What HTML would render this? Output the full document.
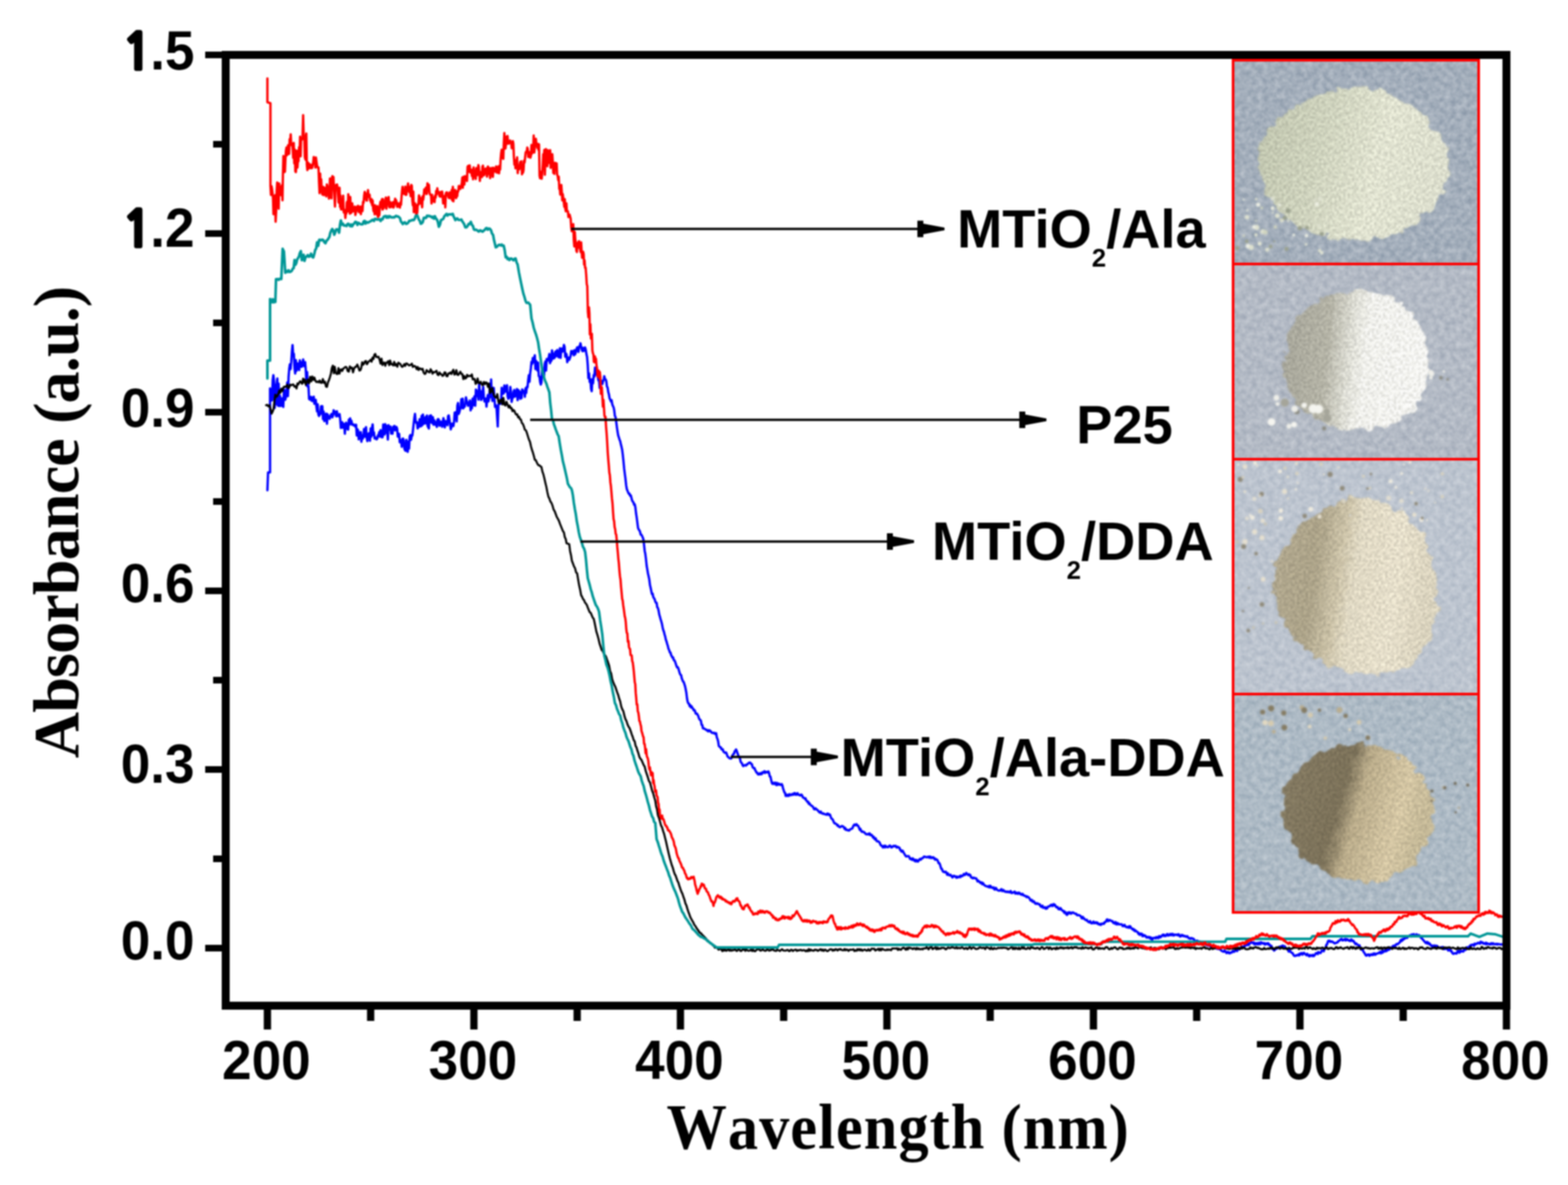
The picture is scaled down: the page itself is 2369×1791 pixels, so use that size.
<!DOCTYPE html>
<html><head><meta charset="utf-8"><title>UV-vis absorbance</title>
<style>html,body{margin:0;padding:0;background:#fff;}body{width:2369px;height:1791px;overflow:hidden;}svg{display:block;filter:blur(1px)}</style>
</head><body>
<svg xmlns="http://www.w3.org/2000/svg" width="2369" height="1791" viewBox="0 0 2369 1791">
<defs>
<clipPath id="plot"><rect x="347" y="89" width="1923" height="1425"/></clipPath>
<filter id="grain" x="0" y="0" width="100%" height="100%">
<feTurbulence type="fractalNoise" baseFrequency="0.22" numOctaves="2" seed="4" result="n"/>
<feColorMatrix in="n" type="matrix" values="0 0 0 0 0  0 0 0 0 0  0 0 0 0 0  0 0 0 -2.2 1.25" result="a"/>
<feComposite in="SourceGraphic" in2="a" operator="in"/>
</filter>

<filter id="rough" x="-15%" y="-15%" width="130%" height="130%" color-interpolation-filters="sRGB">
  <feTurbulence type="fractalNoise" baseFrequency="0.07" numOctaves="2" seed="5" result="t"/>
  <feDisplacementMap in="SourceGraphic" in2="t" scale="18" xChannelSelector="R" yChannelSelector="G" result="d"/>
  <feTurbulence type="fractalNoise" baseFrequency="0.3" numOctaves="1" seed="9" result="t2"/>
  <feColorMatrix in="t2" type="matrix" values="2.4 0 0 0 -0.7  2.4 0 0 0 -0.7  2.4 0 0 0 -0.7  0 0 0 0 1" result="g"/>
  <feComposite in="d" in2="g" operator="arithmetic" k1="0.26" k2="0.88" k3="0" k4="0" result="m"/>
  <feComposite in="m" in2="d" operator="in" result="c"/>
  <feGaussianBlur in="c" stdDeviation="0.9"/>
</filter>
<filter id="soft" x="-20%" y="-20%" width="140%" height="140%"><feGaussianBlur stdDeviation="1.3"/></filter>
<linearGradient id="g1" x1="0" y1="0" x2="1" y2="0.2">
  <stop offset="0" stop-color="#bcc1aa"/><stop offset="0.4" stop-color="#cdd1bc"/><stop offset="0.7" stop-color="#dfe1cf"/><stop offset="1" stop-color="#dadccb"/>
</linearGradient>
<linearGradient id="g2" x1="0" y1="0" x2="1" y2="0.1">
  <stop offset="0" stop-color="#a4a397"/><stop offset="0.33" stop-color="#b2b1a4"/><stop offset="0.48" stop-color="#d8d8cf"/><stop offset="0.6" stop-color="#eeeee9"/><stop offset="1" stop-color="#f3f3ef"/>
</linearGradient>
<linearGradient id="g3" x1="0" y1="0" x2="1" y2="0.15">
  <stop offset="0" stop-color="#b0a78e"/><stop offset="0.3" stop-color="#aaa187"/><stop offset="0.45" stop-color="#c9c0a6"/><stop offset="0.55" stop-color="#ddd6c1"/><stop offset="0.8" stop-color="#e4ddc9"/><stop offset="1" stop-color="#d8d1bc"/>
</linearGradient>
<linearGradient id="g4" x1="0" y1="0" x2="1" y2="0.25">
  <stop offset="0" stop-color="#857b63"/><stop offset="0.45" stop-color="#7a7058"/><stop offset="0.58" stop-color="#b8aa89"/><stop offset="0.85" stop-color="#d3c5a3"/><stop offset="1" stop-color="#c3b796"/>
</linearGradient>

<filter id="bgnoise" x="0" y="0" width="100%" height="100%" color-interpolation-filters="sRGB">
<feTurbulence type="fractalNoise" baseFrequency="0.12" numOctaves="2" seed="21"/>
<feColorMatrix type="matrix" values="1 0 0 0 0  1 0 0 0 0  1 0 0 0 0  0 0 0 0 1"/>
</filter>
</defs>
<rect width="2369" height="1791" fill="#fff"/>
<g id="inset">
<rect x="1863" y="91" width="371" height="308" fill="#A3AEBB"/>
<rect x="1863" y="399" width="371" height="295" fill="#B3BAC5"/>
<rect x="1863" y="694" width="371" height="355" fill="#BCC4CF"/>
<rect x="1863" y="1049" width="371" height="330" fill="#ADBAC5"/>
<rect x="1863" y="91" width="371" height="1288" filter="url(#bgnoise)" opacity="0.35" style="mix-blend-mode:overlay"/>
<g filter="url(#rough)">
<path d="M1902,232 C1905,190 1960,150 2030,133 C2090,125 2160,160 2188,230 C2200,280 2160,340 2090,360 C2030,370 1960,355 1925,310 C1905,285 1900,260 1902,232 Z" fill="url(#g1)"/>
</g>
<g filter="url(#soft)"><circle cx="1885.7" cy="372.0" r="3.4" fill="#eef0e4"/><circle cx="1883.6" cy="364.7" r="2.7" fill="#9aa08c"/><circle cx="1972.1" cy="308.0" r="1.6" fill="#9aa08c"/><circle cx="1925.1" cy="364.8" r="1.5" fill="#9aa08c"/><circle cx="1903.2" cy="368.2" r="3.0" fill="#e4e7d6"/><circle cx="1987.0" cy="302.6" r="1.6" fill="#dfe2d0"/><circle cx="1869.2" cy="374.9" r="3.2" fill="#9aa08c"/><circle cx="1963.8" cy="344.8" r="3.4" fill="#9aa08c"/><circle cx="1941.0" cy="329.4" r="3.2" fill="#9aa08c"/><circle cx="1993.7" cy="378.8" r="2.5" fill="#dfe2d0"/><circle cx="1989.7" cy="308.5" r="3.1" fill="#eef0e4"/><circle cx="1884.0" cy="328.3" r="3.3" fill="#dfe2d0"/><circle cx="1991.6" cy="335.9" r="3.6" fill="#d0d4bf"/><circle cx="1908.0" cy="349.9" r="3.7" fill="#dfe2d0"/><circle cx="1919.9" cy="372.5" r="2.7" fill="#9aa08c"/><circle cx="1922.7" cy="314.7" r="2.9" fill="#eef0e4"/><circle cx="1879.4" cy="356.4" r="1.8" fill="#d0d4bf"/><circle cx="1936.8" cy="333.4" r="2.7" fill="#e4e7d6"/><circle cx="1930.0" cy="326.2" r="3.6" fill="#dfe2d0"/><circle cx="1946.3" cy="333.5" r="1.9" fill="#dfe2d0"/><circle cx="1898.0" cy="301.0" r="2.0" fill="#dfe2d0"/><circle cx="1898.6" cy="343.7" r="3.9" fill="#dfe2d0"/><circle cx="1914.6" cy="377.3" r="3.1" fill="#dfe2d0"/><circle cx="1994.3" cy="300.5" r="3.5" fill="#dfe2d0"/><circle cx="1974.8" cy="344.1" r="2.9" fill="#9aa08c"/><circle cx="1993.4" cy="340.9" r="2.4" fill="#dfe2d0"/><circle cx="1894.4" cy="342.9" r="2.7" fill="#eef0e4"/><circle cx="1922.7" cy="300.1" r="2.9" fill="#dfe2d0"/><circle cx="1911.7" cy="351.0" r="3.5" fill="#d0d4bf"/><circle cx="1940.7" cy="315.4" r="1.7" fill="#dfe2d0"/><circle cx="1973.2" cy="369.4" r="2.1" fill="#e4e7d6"/><circle cx="1879.0" cy="301.4" r="1.5" fill="#eef0e4"/><circle cx="1900.9" cy="309.3" r="3.1" fill="#eef0e4"/><circle cx="1906.3" cy="314.2" r="2.1" fill="#d0d4bf"/><circle cx="1954.7" cy="355.1" r="2.2" fill="#eef0e4"/><circle cx="1933.5" cy="309.7" r="2.3" fill="#eef0e4"/><circle cx="1923.6" cy="316.0" r="1.8" fill="#dfe2d0"/><circle cx="1996.9" cy="382.1" r="2.6" fill="#e4e7d6"/><circle cx="1897.7" cy="333.8" r="1.6" fill="#d0d4bf"/><circle cx="1926.8" cy="343.0" r="2.6" fill="#d0d4bf"/><circle cx="1997.0" cy="353.6" r="3.2" fill="#9aa08c"/><circle cx="1897.5" cy="355.1" r="2.5" fill="#dfe2d0"/><circle cx="1974.0" cy="356.1" r="2.6" fill="#eef0e4"/><circle cx="1884.6" cy="318.0" r="1.6" fill="#e4e7d6"/><circle cx="1981.3" cy="326.4" r="3.8" fill="#d0d4bf"/><circle cx="1922.9" cy="321.5" r="1.5" fill="#e4e7d6"/><circle cx="1946.0" cy="318.5" r="3.8" fill="#9aa08c"/><circle cx="1890.6" cy="373.8" r="3.9" fill="#dfe2d0"/><circle cx="1935.2" cy="332.1" r="2.4" fill="#d0d4bf"/><circle cx="1943.7" cy="376.2" r="3.0" fill="#9aa08c"/></g>
<g filter="url(#rough)">
<path d="M1945,520 C1950,470 2000,440 2060,440 C2120,442 2160,490 2158,550 C2157,610 2120,648 2060,650 C2000,650 1950,620 1942,575 C1939,555 1942,535 1945,520 Z" fill="url(#g2)"/>
</g>
<g filter="url(#soft)"><circle cx="2000.6" cy="647.4" r="3.2" fill="#8b8b82"/><circle cx="1941.1" cy="608.5" r="6.2" fill="#a5a59a"/><circle cx="1930.2" cy="610.6" r="3.1" fill="#efefe9"/><circle cx="2005.0" cy="631.9" r="6.2" fill="#a5a59a"/><circle cx="1959.4" cy="622.2" r="4.1" fill="#8b8b82"/><circle cx="1992.1" cy="618.2" r="6.7" fill="#f5f5f0"/><circle cx="1947.4" cy="644.2" r="3.7" fill="#efefe9"/><circle cx="1928.6" cy="601.2" r="4.3" fill="#efefe9"/><circle cx="1956.0" cy="618.0" r="5.1" fill="#efefe9"/><circle cx="2004.5" cy="622.3" r="4.7" fill="#a5a59a"/><circle cx="1984.0" cy="617.7" r="6.9" fill="#f5f5f0"/><circle cx="1921.1" cy="637.7" r="5.9" fill="#f5f5f0"/><circle cx="1970.5" cy="612.5" r="4.1" fill="#f5f5f0"/><circle cx="1955.1" cy="641.6" r="4.4" fill="#f5f5f0"/><circle cx="2161.9" cy="570.9" r="2.7" fill="#efefe9"/><circle cx="2181.3" cy="561.3" r="2.0" fill="#efefe9"/><circle cx="2163.0" cy="564.7" r="4.0" fill="#efefe9"/><circle cx="2177.0" cy="571.0" r="2.8" fill="#8b8b82"/><circle cx="2161.6" cy="563.0" r="3.9" fill="#efefe9"/><circle cx="2187.1" cy="573.4" r="2.1" fill="#8b8b82"/></g>
<g filter="url(#rough)">
<path d="M1925,880 C1925,820 1980,770 2040,752 C2100,745 2150,790 2165,850 C2180,920 2170,980 2120,1010 C2070,1030 2010,1015 1975,985 C1940,955 1925,920 1925,880 Z" fill="url(#g3)"/>
</g>
<g filter="url(#soft)"><circle cx="1941.6" cy="707.5" r="2.5" fill="#d8d2c0"/><circle cx="1896.1" cy="699.8" r="2.9" fill="#f0ece0"/><circle cx="2117.7" cy="768.4" r="2.1" fill="#e0ddd2"/><circle cx="1980.4" cy="769.7" r="3.6" fill="#f0ece0"/><circle cx="1934.9" cy="783.3" r="3.6" fill="#f0ece0"/><circle cx="2117.7" cy="715.8" r="2.3" fill="#f0ece0"/><circle cx="1895.1" cy="753.7" r="3.2" fill="#e0ddd2"/><circle cx="1945.6" cy="720.8" r="2.2" fill="#e0ddd2"/><circle cx="2130.2" cy="698.7" r="2.2" fill="#f0ece0"/><circle cx="2132.6" cy="744.8" r="2.5" fill="#e0ddd2"/><circle cx="1957.9" cy="739.5" r="2.1" fill="#f0ece0"/><circle cx="2121.5" cy="702.0" r="1.6" fill="#f0ece0"/><circle cx="2029.9" cy="757.6" r="3.3" fill="#d8d2c0"/><circle cx="2179.2" cy="716.0" r="2.5" fill="#d8d2c0"/><circle cx="2066.1" cy="738.6" r="2.0" fill="#8f8a7a"/><circle cx="2101.0" cy="727.5" r="2.9" fill="#f0ece0"/><circle cx="1899.5" cy="703.7" r="2.1" fill="#e0ddd2"/><circle cx="2060.0" cy="719.8" r="2.3" fill="#d8d2c0"/><circle cx="1958.8" cy="700.4" r="2.4" fill="#e6e0d0"/><circle cx="2147.5" cy="785.8" r="3.3" fill="#f0ece0"/><circle cx="1873.7" cy="724.6" r="3.9" fill="#8f8a7a"/><circle cx="2136.7" cy="778.0" r="3.2" fill="#e6e0d0"/><circle cx="1959.5" cy="715.6" r="2.6" fill="#d8d2c0"/><circle cx="1946.0" cy="753.1" r="1.9" fill="#e0ddd2"/><circle cx="1870.9" cy="702.1" r="1.9" fill="#f0ece0"/><circle cx="2179.1" cy="750.6" r="2.6" fill="#d8d2c0"/><circle cx="2000.3" cy="717.1" r="1.6" fill="#e6e0d0"/><circle cx="2098.0" cy="752.8" r="3.9" fill="#e0ddd2"/><circle cx="1880.8" cy="743.1" r="2.1" fill="#e6e0d0"/><circle cx="1906.1" cy="746.7" r="3.4" fill="#8f8a7a"/><circle cx="2071.3" cy="716.4" r="2.0" fill="#8f8a7a"/><circle cx="1996.1" cy="701.4" r="2.6" fill="#d8d2c0"/><circle cx="2070.0" cy="737.4" r="2.0" fill="#d8d2c0"/><circle cx="1877.9" cy="721.4" r="2.1" fill="#d8d2c0"/><circle cx="2109.0" cy="736.4" r="2.2" fill="#f0ece0"/><circle cx="1884.0" cy="783.4" r="2.9" fill="#e0ddd2"/><circle cx="1993.7" cy="780.9" r="3.1" fill="#e6e0d0"/><circle cx="2022.2" cy="706.5" r="2.0" fill="#e0ddd2"/><circle cx="2148.7" cy="783.1" r="2.3" fill="#8f8a7a"/><circle cx="2117.4" cy="757.1" r="3.5" fill="#e0ddd2"/><circle cx="1935.2" cy="771.7" r="3.5" fill="#f0ece0"/><circle cx="2155.9" cy="786.0" r="1.7" fill="#f0ece0"/><circle cx="2168.1" cy="759.5" r="1.6" fill="#e0ddd2"/><circle cx="1907.8" cy="787.1" r="3.2" fill="#e6e0d0"/><circle cx="2139.5" cy="761.3" r="2.7" fill="#8f8a7a"/><circle cx="2100.9" cy="783.3" r="2.0" fill="#e6e0d0"/><circle cx="1933.9" cy="712.4" r="3.0" fill="#f0ece0"/><circle cx="1904.2" cy="772.5" r="3.5" fill="#d8d2c0"/><circle cx="2039.8" cy="778.8" r="2.0" fill="#e0ddd2"/><circle cx="1971.2" cy="780.0" r="3.4" fill="#8f8a7a"/><circle cx="2153.6" cy="738.4" r="1.7" fill="#e0ddd2"/><circle cx="1903.2" cy="749.6" r="2.1" fill="#d8d2c0"/><circle cx="1880.9" cy="705.3" r="3.7" fill="#e6e0d0"/><circle cx="1960.6" cy="729.9" r="1.7" fill="#e0ddd2"/><circle cx="2009.6" cy="716.9" r="3.9" fill="#8f8a7a"/><circle cx="1940.9" cy="742.8" r="3.9" fill="#e6e0d0"/><circle cx="1892.1" cy="782.2" r="3.5" fill="#f0ece0"/><circle cx="2027.9" cy="737.9" r="3.6" fill="#8f8a7a"/><circle cx="1888.9" cy="779.1" r="2.0" fill="#f0ece0"/><circle cx="2158.1" cy="742.0" r="1.8" fill="#e0ddd2"/><circle cx="1906.6" cy="913.5" r="3.5" fill="#8f8a7a"/><circle cx="1908.4" cy="875.4" r="3.6" fill="#e6e0d0"/><circle cx="1908.2" cy="942.2" r="1.8" fill="#c9c4b4"/><circle cx="1921.8" cy="848.5" r="1.8" fill="#e6e0d0"/><circle cx="1868.8" cy="819.0" r="2.2" fill="#c9c4b4"/><circle cx="1877.9" cy="923.5" r="1.8" fill="#8f8a7a"/><circle cx="1895.6" cy="803.8" r="3.9" fill="#e6e0d0"/><circle cx="1881.0" cy="818.8" r="4.0" fill="#e6e0d0"/><circle cx="1885.9" cy="953.1" r="2.8" fill="#8f8a7a"/><circle cx="1906.8" cy="812.7" r="3.9" fill="#e6e0d0"/><circle cx="1927.9" cy="940.9" r="2.2" fill="#c9c4b4"/><circle cx="1893.7" cy="948.4" r="2.2" fill="#c9c4b4"/><circle cx="1886.7" cy="888.6" r="1.5" fill="#8f8a7a"/><circle cx="1911.9" cy="791.9" r="2.4" fill="#c9c4b4"/><circle cx="1897.8" cy="836.8" r="2.7" fill="#8f8a7a"/><circle cx="1878.9" cy="826.1" r="3.8" fill="#8f8a7a"/></g>
<g filter="url(#rough)">
<path d="M1940,1200 C1950,1150 2000,1125 2060,1125 C2120,1127 2160,1170 2165,1220 C2168,1280 2130,1330 2070,1333 C2010,1335 1960,1300 1945,1260 C1938,1240 1937,1220 1940,1200 Z" fill="url(#g4)"/>
</g>
<g filter="url(#soft)"><circle cx="2066.6" cy="1114.9" r="3.5" fill="#857b64"/><circle cx="1907.7" cy="1076.3" r="3.8" fill="#857b64"/><circle cx="1967.1" cy="1069.2" r="3.5" fill="#b9ae92"/><circle cx="2053.3" cy="1091.6" r="3.6" fill="#d6cbb0"/><circle cx="1940.5" cy="1099.6" r="4.4" fill="#857b64"/><circle cx="2039.2" cy="1102.8" r="2.3" fill="#e2d9c2"/><circle cx="1970.5" cy="1073.3" r="4.4" fill="#857b64"/><circle cx="1993.5" cy="1073.3" r="2.6" fill="#857b64"/><circle cx="1920.5" cy="1070.6" r="4.7" fill="#857b64"/><circle cx="2002.2" cy="1115.5" r="2.6" fill="#d6cbb0"/><circle cx="2033.0" cy="1082.0" r="3.3" fill="#857b64"/><circle cx="2023.7" cy="1073.1" r="4.6" fill="#b9ae92"/><circle cx="1924.5" cy="1105.8" r="2.9" fill="#b9ae92"/><circle cx="1979.8" cy="1080.7" r="3.8" fill="#d6cbb0"/><circle cx="1939.6" cy="1077.6" r="3.9" fill="#857b64"/><circle cx="1978.7" cy="1098.1" r="2.9" fill="#e2d9c2"/><circle cx="1911.3" cy="1092.1" r="4.2" fill="#e2d9c2"/><circle cx="1920.2" cy="1093.2" r="4.4" fill="#d6cbb0"/><circle cx="2182.7" cy="1190.6" r="2.5" fill="#6e6552"/><circle cx="2217.5" cy="1186.6" r="2.4" fill="#6e6552"/><circle cx="2162.6" cy="1210.4" r="1.6" fill="#6e6552"/><circle cx="2198.6" cy="1184.1" r="2.3" fill="#6e6552"/><circle cx="2204.1" cy="1220.8" r="1.6" fill="#a89d83"/><circle cx="2163.5" cy="1195.5" r="2.3" fill="#6e6552"/><circle cx="2180.3" cy="1190.1" r="1.7" fill="#a89d83"/><circle cx="2199.2" cy="1227.7" r="1.7" fill="#6e6552"/></g>
</g>
<g clip-path="url(#plot)" fill="none" stroke-linejoin="round" stroke-linecap="round">
<path d="M404.0,741.0 405.0,714.0 406.0,714.0 407.0,714.0 408.0,714.0 408.0,587.0 409.0,588.8 410.0,589.6 411.0,605.2 412.0,574.5 413.0,567.0 414.0,575.2 415.0,616.4 416.0,581.9 417.0,611.1 418.0,579.7 419.0,572.0 420.0,613.3 421.0,579.8 422.0,613.6 423.0,598.1 424.0,613.6 425.0,609.2 426.0,602.1 427.0,613.7 428.0,615.0 429.0,588.9 430.0,589.8 431.0,604.2 432.0,600.2 433.0,595.3 434.0,578.0 435.0,598.7 436.0,569.5 437.0,557.1 438.0,550.5 439.0,557.9 440.0,547.9 441.0,532.0 442.0,521.5 443.0,536.8 444.0,534.8 445.0,557.1 446.0,564.4 447.0,544.2 448.0,560.4 449.0,554.6 450.0,549.2 451.0,549.7 452.0,559.3 453.0,544.6 454.0,554.4 455.0,547.4 456.0,554.3 457.0,550.0 458.0,543.2 459.0,552.4 460.0,553.7 461.0,547.2 462.0,559.2 463.0,582.6 464.0,562.2 465.0,584.5 466.0,582.9 467.0,603.0 468.0,603.9 469.0,603.3 470.0,599.9 471.0,606.0 472.0,601.3 473.0,606.2 474.0,599.6 475.0,610.3 476.0,604.7 477.0,604.4 478.0,614.1 479.0,621.8 480.0,611.0 481.0,626.4 482.0,628.7 483.0,625.1 484.0,626.1 485.0,614.1 486.0,618.3 487.0,613.9 488.0,633.5 489.0,622.0 490.0,636.4 491.0,635.9 492.0,625.7 493.0,625.2 494.0,640.4 495.0,626.3 496.0,629.1 497.0,630.8 498.0,633.0 499.0,628.9 500.0,627.0 501.0,625.6 502.0,630.8 503.0,628.5 504.0,620.1 505.0,624.6 506.0,621.8 507.0,626.5 508.0,629.2 509.0,621.5 510.0,628.8 511.0,628.9 512.0,629.0 513.0,625.8 514.0,633.6 515.0,646.8 516.0,644.6 517.0,638.1 518.0,646.5 519.0,640.4 520.0,640.9 521.0,655.5 522.0,643.6 523.0,638.9 524.0,647.8 525.0,648.5 526.0,649.2 527.0,634.3 528.0,641.8 529.0,632.3 530.0,640.6 531.0,636.0 532.0,642.1 533.0,641.1 534.0,641.7 535.0,643.2 536.0,642.0 537.0,644.9 538.0,642.0 539.0,658.2 540.0,648.7 541.0,650.5 542.0,664.0 543.0,661.8 544.0,653.7 545.0,653.1 546.0,667.7 547.0,658.0 548.0,663.1 549.0,658.6 550.0,648.3 551.0,660.0 552.0,659.4 553.0,645.5 554.0,661.5 555.0,666.7 556.0,659.3 557.0,655.1 558.0,654.7 559.0,666.2 560.0,647.6 561.0,660.1 562.0,647.0 563.0,641.4 564.0,657.3 565.0,653.4 566.0,662.8 567.0,660.8 568.0,662.9 569.0,663.9 570.0,663.0 571.0,657.9 572.0,657.5 573.0,653.1 574.0,660.0 575.0,650.0 576.0,656.2 577.0,661.0 578.0,660.8 579.0,641.5 580.0,653.4 581.0,656.7 582.0,641.0 583.0,654.1 584.0,643.5 585.0,651.1 586.0,664.3 587.0,642.4 588.0,648.8 589.0,649.3 590.0,644.7 591.0,655.3 592.0,651.6 593.0,655.5 594.0,645.1 595.0,649.5 596.0,643.8 597.0,650.4 598.0,647.1 599.0,645.3 600.0,647.9 601.0,659.9 602.0,660.2 603.0,655.6 604.0,668.4 605.0,665.2 606.0,665.9 607.0,675.3 608.0,663.2 609.0,662.9 610.0,665.4 611.0,678.3 612.0,680.6 613.0,681.4 614.0,664.7 615.0,677.8 616.0,683.0 617.0,667.6 618.0,678.1 619.0,659.5 620.0,657.6 621.0,664.8 622.0,659.2 623.0,658.3 624.0,649.8 625.0,640.2 626.0,631.6 627.0,625.6 628.0,637.0 629.0,639.3 630.0,638.0 631.0,647.6 632.0,641.8 633.0,645.3 634.0,633.5 635.0,640.7 636.0,644.3 637.0,628.5 638.0,642.7 639.0,626.4 640.0,640.4 641.0,640.3 642.0,639.8 643.0,630.2 644.0,639.7 645.0,628.1 646.0,643.7 647.0,645.8 648.0,647.6 649.0,628.4 650.0,638.4 651.0,627.7 652.0,630.7 653.0,639.5 654.0,630.4 655.0,641.9 656.0,634.9 657.0,638.8 658.0,642.1 659.0,638.1 660.0,645.2 661.0,634.2 662.0,633.3 663.0,634.2 664.0,643.6 665.0,637.5 666.0,637.3 667.0,641.5 668.0,645.0 669.0,637.5 670.0,631.9 671.0,639.8 672.0,646.1 673.0,636.2 674.0,639.4 675.0,640.9 676.0,642.7 677.0,628.7 678.0,627.8 679.0,634.4 680.0,640.7 681.0,648.9 682.0,645.8 683.0,640.3 684.0,641.6 685.0,644.0 686.0,637.2 687.0,623.5 688.0,632.7 689.0,622.8 690.0,636.9 691.0,612.7 692.0,609.1 693.0,625.7 694.0,623.2 695.0,618.9 696.0,614.6 697.0,603.2 698.0,616.7 699.0,602.5 700.0,617.2 701.0,611.9 702.0,614.9 703.0,610.0 704.0,600.6 705.0,605.3 706.0,608.6 707.0,613.3 708.0,611.9 709.0,608.3 710.0,605.4 711.0,620.3 712.0,613.2 713.0,617.1 714.0,602.6 715.0,612.7 716.0,601.9 717.0,598.9 718.0,613.2 719.0,588.8 720.0,590.0 721.0,598.6 722.0,596.2 723.0,604.1 724.0,579.0 725.0,597.0 726.0,590.8 727.0,604.5 728.0,601.9 729.0,598.1 730.0,584.5 731.0,599.7 732.0,606.7 733.0,603.3 734.0,602.3 735.0,614.6 736.0,603.9 737.0,597.0 738.0,606.7 739.0,601.9 740.0,587.2 741.0,600.0 742.0,573.5 743.0,598.3 744.0,605.9 745.0,586.2 746.0,586.2 747.0,603.6 748.0,615.0 749.0,612.3 750.0,613.6 751.0,629.0 752.0,644.6 753.0,612.1 754.0,607.1 755.0,606.6 756.0,610.2 757.0,609.1 758.0,585.9 759.0,595.8 760.0,593.7 761.0,594.6 762.0,582.6 763.0,585.8 764.0,591.9 765.0,585.9 766.0,582.2 767.0,599.3 768.0,602.8 769.0,593.9 770.0,600.8 771.0,584.7 772.0,592.8 773.0,607.5 774.0,602.4 775.0,600.9 776.0,591.6 777.0,589.4 778.0,599.6 779.0,598.2 780.0,594.2 781.0,587.9 782.0,604.8 783.0,589.4 784.0,590.4 785.0,594.3 786.0,602.8 787.0,592.2 788.0,601.7 789.0,588.5 790.0,592.5 791.0,590.8 792.0,592.7 793.0,599.7 794.0,586.7 795.0,594.0 796.0,584.5 797.0,585.2 798.0,574.5 799.0,566.9 800.0,576.9 801.0,564.2 802.0,557.0 803.0,546.8 804.0,550.1 805.0,541.0 806.0,547.6 807.0,542.0 808.0,537.0 809.0,557.8 810.0,545.4 811.0,551.4 812.0,560.1 813.0,548.1 814.0,568.5 815.0,568.9 816.0,576.9 817.0,581.2 818.0,578.3 819.0,560.0 820.0,568.1 821.0,560.3 822.0,567.5 823.0,550.0 824.0,546.4 825.0,560.1 826.0,542.5 827.0,543.4 828.0,544.8 829.0,540.5 830.0,535.0 831.0,548.9 832.0,542.0 833.0,545.5 834.0,529.5 835.0,536.9 836.0,542.1 837.0,534.8 838.0,540.9 839.0,531.6 840.0,530.9 841.0,538.2 842.0,529.1 843.0,531.9 844.0,540.1 845.0,539.0 846.0,526.2 847.0,540.9 848.0,527.2 849.0,526.8 850.0,531.5 851.0,527.9 852.0,521.3 853.0,524.4 854.0,539.2 855.0,534.2 856.0,535.7 857.0,547.4 858.0,543.2 859.0,540.3 860.0,543.9 861.0,541.1 862.0,538.5 863.0,530.6 864.0,532.8 865.0,534.5 866.0,530.5 867.0,537.1 868.0,529.3 869.0,535.4 870.0,532.4 871.0,527.7 872.0,525.0 873.0,525.6 874.0,531.9 875.0,523.6 876.0,523.0 877.0,518.9 878.0,524.2 879.0,528.7 880.0,530.7 881.0,525.8 882.0,530.6 883.0,527.0 884.0,525.2 885.0,528.8 886.0,535.2 887.0,539.7 888.0,551.8 889.0,571.6 890.0,564.2 891.0,577.3 892.0,573.2 893.0,587.7 894.0,591.2 895.0,573.1 896.0,579.3 897.0,566.8 898.0,569.2 899.0,555.5 900.0,559.6 901.0,563.3 902.0,567.5 903.0,567.9 904.0,574.8 905.0,573.8 906.0,586.4 907.0,579.0 908.0,577.3 909.0,575.7 910.0,580.6 911.0,576.6 912.0,574.1 913.0,568.6 914.0,572.9 915.0,573.5 916.0,576.0 917.0,584.1 918.0,585.8 919.0,592.6 920.0,596.1 921.0,602.0 922.0,604.0 923.0,606.7 924.0,604.8 925.0,610.9 926.0,613.7 927.0,615.5 928.0,620.2 929.0,628.7 930.0,630.4 931.0,637.5 932.0,645.4 933.0,652.2 934.0,658.2 935.0,661.0 936.0,664.4 937.0,666.7 938.0,671.5 939.0,675.3 940.0,679.9 941.0,687.9 942.0,697.4 943.0,708.2 944.0,716.1 945.0,723.7 946.0,733.3 947.0,739.1 948.0,741.7 949.0,744.1 950.0,746.3 951.0,746.0 952.0,749.1 953.0,748.8 954.0,752.4 955.0,756.2 956.0,758.1 957.0,759.2 958.0,762.7 959.0,762.3 960.0,767.2 961.0,776.1 962.0,782.4 963.0,790.2 964.0,797.9 965.0,800.4 966.0,801.5 967.0,803.7 968.0,808.1 969.0,808.1 970.0,809.9 971.0,812.1 972.0,814.8 973.0,822.9 974.0,832.3 975.0,837.4 976.0,845.4 977.0,855.1 978.0,860.7 979.0,866.9 980.0,871.1 981.0,876.0 982.0,884.1 983.0,888.4 984.0,893.4 985.0,898.0 986.0,897.1 987.0,902.3 988.0,904.0 989.0,905.5 990.0,908.9 991.0,911.0 992.0,911.1 993.0,917.8 994.0,918.9 995.0,922.8 996.0,928.5 997.0,931.9 998.0,935.8 999.0,938.9 1000.0,942.5 1001.0,947.6 1002.0,952.1 1003.0,954.5 1004.0,958.7 1005.0,962.0 1006.0,966.9 1007.0,969.5 1008.0,973.2 1009.0,976.3 1010.0,980.7 1011.0,982.5 1012.0,986.0 1013.0,986.3 1014.0,990.2 1015.0,991.8 1016.0,994.0 1017.0,993.7 1018.0,997.8 1019.0,998.1 1020.0,1000.2 1021.0,1003.3 1022.0,1006.4 1023.0,1008.7 1024.0,1008.4 1025.0,1010.5 1026.0,1014.1 1027.0,1017.5 1028.0,1019.7 1029.0,1020.2 1030.0,1025.1 1031.0,1027.7 1032.0,1030.0 1033.0,1030.9 1034.0,1034.1 1035.0,1037.1 1036.0,1041.9 1037.0,1047.4 1038.0,1055.9 1039.0,1060.8 1040.0,1063.2 1041.0,1063.5 1042.0,1067.3 1043.0,1065.8 1044.0,1069.2 1045.0,1067.7 1046.0,1070.2 1047.0,1070.7 1048.0,1073.4 1049.0,1073.1 1050.0,1074.5 1051.0,1078.2 1052.0,1078.9 1053.0,1078.5 1054.0,1080.3 1055.0,1082.2 1056.0,1085.5 1057.0,1087.4 1058.0,1088.0 1059.0,1089.7 1060.0,1095.5 1061.0,1095.7 1062.0,1100.6 1063.0,1101.1 1064.0,1101.0 1065.0,1101.8 1066.0,1102.7 1067.0,1102.7 1068.0,1104.1 1069.0,1103.6 1070.0,1105.5 1071.0,1103.7 1072.0,1103.8 1073.0,1105.4 1074.0,1105.3 1075.0,1107.3 1076.0,1107.6 1077.0,1107.9 1078.0,1107.5 1079.0,1107.4 1080.0,1109.1 1081.0,1109.5 1082.0,1108.2 1083.0,1114.6 1084.0,1116.7 1085.0,1120.5 1086.0,1127.3 1087.0,1128.5 1088.0,1129.2 1089.0,1129.4 1090.0,1132.4 1091.0,1132.7 1092.0,1132.5 1093.0,1136.1 1094.0,1136.4 1095.0,1137.9 1096.0,1137.7 1097.0,1137.3 1098.0,1139.6 1099.0,1142.9 1100.0,1144.1 1101.0,1144.6 1102.0,1146.1 1103.0,1146.1 1104.0,1146.4 1105.0,1146.3 1106.0,1143.2 1107.0,1141.1 1108.0,1139.6 1109.0,1139.3 1110.0,1135.4 1111.0,1134.9 1112.0,1132.7 1113.0,1134.6 1114.0,1137.9 1115.0,1140.3 1116.0,1143.7 1117.0,1143.9 1118.0,1146.5 1119.0,1151.4 1120.0,1152.6 1121.0,1153.7 1122.0,1156.6 1123.0,1157.8 1124.0,1156.9 1125.0,1156.4 1126.0,1156.4 1127.0,1157.1 1128.0,1155.5 1129.0,1155.6 1130.0,1154.0 1131.0,1153.5 1132.0,1152.8 1133.0,1152.5 1134.0,1153.2 1135.0,1154.8 1136.0,1155.0 1137.0,1159.2 1138.0,1160.4 1139.0,1161.3 1140.0,1161.0 1141.0,1164.1 1142.0,1165.5 1143.0,1167.8 1144.0,1167.7 1145.0,1170.1 1146.0,1170.6 1147.0,1170.3 1148.0,1168.7 1149.0,1170.2 1150.0,1168.6 1151.0,1169.9 1152.0,1167.1 1153.0,1167.8 1154.0,1167.8 1155.0,1165.5 1156.0,1168.1 1157.0,1166.9 1158.0,1166.6 1159.0,1167.2 1160.0,1167.5 1161.0,1165.9 1162.0,1168.6 1163.0,1173.5 1164.0,1173.7 1165.0,1178.3 1166.0,1182.7 1167.0,1184.8 1168.0,1183.0 1169.0,1183.5 1170.0,1185.0 1171.0,1182.9 1172.0,1184.2 1173.0,1186.6 1174.0,1183.2 1175.0,1186.2 1176.0,1185.5 1177.0,1184.4 1178.0,1186.0 1179.0,1185.7 1180.0,1186.5 1181.0,1185.0 1182.0,1186.9 1183.0,1191.2 1184.0,1194.3 1185.0,1197.5 1186.0,1198.1 1187.0,1203.0 1188.0,1200.8 1189.0,1202.8 1190.0,1202.9 1191.0,1201.1 1192.0,1202.7 1193.0,1200.4 1194.0,1201.3 1195.0,1201.8 1196.0,1201.5 1197.0,1199.9 1198.0,1200.2 1199.0,1201.1 1200.0,1198.7 1201.0,1198.8 1202.0,1201.0 1203.0,1201.3 1204.0,1199.3 1205.0,1198.9 1206.0,1201.3 1207.0,1200.9 1208.0,1201.5 1209.0,1202.3 1210.0,1201.3 1211.0,1201.0 1212.0,1202.4 1213.0,1205.1 1214.0,1205.8 1215.0,1205.9 1216.0,1207.4 1217.0,1206.5 1218.0,1209.7 1219.0,1210.3 1220.0,1212.1 1221.0,1211.7 1222.0,1214.9 1223.0,1214.1 1224.0,1216.0 1225.0,1217.2 1226.0,1217.5 1227.0,1218.5 1228.0,1219.0 1229.0,1221.0 1230.0,1223.1 1231.0,1223.2 1232.0,1221.6 1233.0,1223.0 1234.0,1223.3 1235.0,1224.4 1236.0,1225.0 1237.0,1226.8 1238.0,1227.5 1239.0,1228.3 1240.0,1226.6 1241.0,1228.6 1242.0,1229.1 1243.0,1229.9 1244.0,1229.2 1245.0,1230.1 1246.0,1230.6 1247.0,1230.8 1248.0,1231.0 1249.0,1231.5 1250.0,1229.6 1251.0,1229.8 1252.0,1231.7 1253.0,1230.7 1254.0,1231.3 1255.0,1234.3 1256.0,1237.0 1257.0,1237.6 1258.0,1238.5 1259.0,1240.8 1260.0,1243.2 1261.0,1244.6 1262.0,1244.3 1263.0,1245.2 1264.0,1245.8 1265.0,1247.6 1266.0,1247.0 1267.0,1249.2 1268.0,1249.2 1269.0,1250.3 1270.0,1249.6 1271.0,1249.1 1272.0,1248.4 1273.0,1249.0 1274.0,1249.3 1275.0,1250.3 1276.0,1252.8 1277.0,1251.4 1278.0,1254.2 1279.0,1254.0 1280.0,1254.3 1281.0,1255.0 1282.0,1254.8 1283.0,1255.3 1284.0,1253.8 1285.0,1253.3 1286.0,1252.7 1287.0,1252.6 1288.0,1251.6 1289.0,1248.8 1290.0,1247.3 1291.0,1246.2 1292.0,1247.3 1293.0,1247.0 1294.0,1245.6 1295.0,1247.6 1296.0,1247.6 1297.0,1249.0 1298.0,1251.4 1299.0,1254.1 1300.0,1252.7 1301.0,1255.8 1302.0,1257.1 1303.0,1256.5 1304.0,1257.5 1305.0,1257.6 1306.0,1258.1 1307.0,1259.4 1308.0,1260.5 1309.0,1261.0 1310.0,1260.8 1311.0,1261.0 1312.0,1260.2 1313.0,1261.5 1314.0,1259.6 1315.0,1262.1 1316.0,1262.4 1317.0,1261.8 1318.0,1263.6 1319.0,1265.9 1320.0,1264.6 1321.0,1267.5 1322.0,1268.8 1323.0,1267.1 1324.0,1269.7 1325.0,1271.6 1326.0,1271.6 1327.0,1271.4 1328.0,1272.8 1329.0,1273.3 1330.0,1276.1 1331.0,1277.9 1332.0,1278.0 1333.0,1279.2 1334.0,1280.8 1335.0,1278.6 1336.0,1278.3 1337.0,1280.8 1338.0,1278.3 1339.0,1279.7 1340.0,1280.0 1341.0,1280.4 1342.0,1280.4 1343.0,1278.9 1344.0,1277.9 1345.0,1278.2 1346.0,1280.2 1347.0,1280.9 1348.0,1279.8 1349.0,1279.7 1350.0,1278.3 1351.0,1278.8 1352.0,1279.0 1353.0,1278.3 1354.0,1280.1 1355.0,1281.0 1356.0,1279.7 1357.0,1280.3 1358.0,1281.1 1359.0,1281.3 1360.0,1284.7 1361.0,1284.8 1362.0,1287.2 1363.0,1285.6 1364.0,1286.0 1365.0,1288.4 1366.0,1289.7 1367.0,1291.6 1368.0,1293.2 1369.0,1294.5 1370.0,1294.3 1371.0,1293.9 1372.0,1293.9 1373.0,1293.9 1374.0,1296.0 1375.0,1298.2 1376.0,1297.3 1377.0,1298.9 1378.0,1299.6 1379.0,1297.3 1380.0,1298.2 1381.0,1300.5 1382.0,1301.3 1383.0,1299.6 1384.0,1302.0 1385.0,1299.8 1386.0,1301.7 1387.0,1302.2 1388.0,1300.5 1389.0,1299.0 1390.0,1298.1 1391.0,1299.4 1392.0,1298.3 1393.0,1297.1 1394.0,1297.0 1395.0,1296.1 1396.0,1294.6 1397.0,1294.8 1398.0,1295.0 1399.0,1295.5 1400.0,1295.5 1401.0,1295.7 1402.0,1294.9 1403.0,1294.8 1404.0,1296.4 1405.0,1294.5 1406.0,1295.2 1407.0,1296.9 1408.0,1295.8 1409.0,1296.3 1410.0,1295.7 1411.0,1297.7 1412.0,1297.2 1413.0,1299.5 1414.0,1298.3 1415.0,1299.1 1416.0,1299.6 1417.0,1301.5 1418.0,1304.5 1419.0,1304.2 1420.0,1306.3 1421.0,1309.6 1422.0,1313.0 1423.0,1313.0 1424.0,1315.9 1425.0,1317.5 1426.0,1317.2 1427.0,1318.3 1428.0,1317.7 1429.0,1317.6 1430.0,1319.7 1431.0,1322.1 1432.0,1319.8 1433.0,1322.0 1434.0,1322.9 1435.0,1322.5 1436.0,1322.0 1437.0,1324.0 1438.0,1324.1 1439.0,1326.1 1440.0,1324.9 1441.0,1323.6 1442.0,1324.6 1443.0,1324.2 1444.0,1325.4 1445.0,1326.7 1446.0,1324.9 1447.0,1326.3 1448.0,1325.8 1449.0,1325.4 1450.0,1324.2 1451.0,1325.7 1452.0,1323.3 1453.0,1324.2 1454.0,1324.0 1455.0,1323.4 1456.0,1321.1 1457.0,1321.1 1458.0,1322.3 1459.0,1321.0 1460.0,1319.4 1461.0,1321.2 1462.0,1321.4 1463.0,1322.8 1464.0,1321.3 1465.0,1322.8 1466.0,1322.6 1467.0,1325.9 1468.0,1326.0 1469.0,1327.2 1470.0,1327.4 1471.0,1326.4 1472.0,1327.2 1473.0,1327.2 1474.0,1327.5 1475.0,1327.8 1476.0,1330.0 1477.0,1332.2 1478.0,1330.9 1479.0,1332.4 1480.0,1332.4 1481.0,1334.4 1482.0,1334.3 1483.0,1333.7 1484.0,1336.4 1485.0,1334.5 1486.0,1336.0 1487.0,1337.5 1488.0,1338.5 1489.0,1338.9 1490.0,1339.3 1491.0,1339.6 1492.0,1339.9 1493.0,1340.5 1494.0,1339.1 1495.0,1341.3 1496.0,1338.7 1497.0,1339.6 1498.0,1341.5 1499.0,1341.9 1500.0,1341.7 1501.0,1341.1 1502.0,1343.9 1503.0,1344.5 1504.0,1342.1 1505.0,1342.2 1506.0,1344.4 1507.0,1345.3 1508.0,1345.8 1509.0,1345.9 1510.0,1346.2 1511.0,1345.8 1512.0,1344.8 1513.0,1343.8 1514.0,1346.7 1515.0,1346.5 1516.0,1345.2 1517.0,1346.4 1518.0,1347.6 1519.0,1347.8 1520.0,1347.2 1521.0,1348.2 1522.0,1348.1 1523.0,1347.4 1524.0,1348.4 1525.0,1348.3 1526.0,1348.7 1527.0,1346.7 1528.0,1349.5 1529.0,1349.7 1530.0,1349.0 1531.0,1348.8 1532.0,1348.2 1533.0,1347.6 1534.0,1350.6 1535.0,1350.5 1536.0,1349.2 1537.0,1350.3 1538.0,1351.0 1539.0,1349.1 1540.0,1349.3 1541.0,1350.6 1542.0,1351.7 1543.0,1351.1 1544.0,1352.3 1545.0,1351.0 1546.0,1353.0 1547.0,1353.0 1548.0,1354.0 1549.0,1353.9 1550.0,1354.5 1551.0,1355.9 1552.0,1354.9 1553.0,1356.0 1554.0,1356.0 1555.0,1357.3 1556.0,1358.7 1557.0,1361.0 1558.0,1361.0 1559.0,1360.2 1560.0,1363.0 1561.0,1363.1 1562.0,1362.2 1563.0,1363.9 1564.0,1365.7 1565.0,1365.1 1566.0,1366.1 1567.0,1365.2 1568.0,1365.6 1569.0,1366.4 1570.0,1367.2 1571.0,1366.8 1572.0,1369.6 1573.0,1370.6 1574.0,1370.8 1575.0,1368.8 1576.0,1371.9 1577.0,1371.8 1578.0,1372.1 1579.0,1371.1 1580.0,1373.5 1581.0,1371.9 1582.0,1373.0 1583.0,1370.7 1584.0,1369.9 1585.0,1369.9 1586.0,1369.7 1587.0,1368.1 1588.0,1367.8 1589.0,1367.3 1590.0,1369.4 1591.0,1368.0 1592.0,1366.4 1593.0,1368.4 1594.0,1367.7 1595.0,1369.9 1596.0,1371.3 1597.0,1370.8 1598.0,1371.0 1599.0,1373.8 1600.0,1374.1 1601.0,1374.5 1602.0,1372.4 1603.0,1373.4 1604.0,1375.3 1605.0,1375.9 1606.0,1377.0 1607.0,1376.8 1608.0,1379.7 1609.0,1378.1 1610.0,1380.0 1611.0,1381.9 1612.0,1382.8 1613.0,1379.2 1614.0,1381.2 1615.0,1379.1 1616.0,1378.7 1617.0,1380.0 1618.0,1381.0 1619.0,1379.4 1620.0,1379.9 1621.0,1379.0 1622.0,1379.6 1623.0,1380.2 1624.0,1380.8 1625.0,1381.3 1626.0,1381.0 1627.0,1383.0 1628.0,1383.3 1629.0,1382.9 1630.0,1383.3 1631.0,1383.4 1632.0,1384.3 1633.0,1384.8 1634.0,1387.4 1635.0,1388.2 1636.0,1385.8 1637.0,1388.2 1638.0,1388.0 1639.0,1389.7 1640.0,1390.2 1641.0,1390.9 1642.0,1390.0 1643.0,1392.0 1644.0,1393.1 1645.0,1393.7 1646.0,1394.0 1647.0,1392.2 1648.0,1394.6 1649.0,1395.5 1650.0,1395.5 1651.0,1394.1 1652.0,1392.9 1653.0,1395.4 1654.0,1395.2 1655.0,1393.9 1656.0,1394.0 1657.0,1395.6 1658.0,1394.4 1659.0,1396.6 1660.0,1396.0 1661.0,1397.4 1662.0,1396.6 1663.0,1397.8 1664.0,1396.0 1665.0,1396.7 1666.0,1396.0 1667.0,1395.6 1668.0,1396.1 1669.0,1393.7 1670.0,1393.6 1671.0,1392.8 1672.0,1390.0 1673.0,1389.5 1674.0,1392.2 1675.0,1392.0 1676.0,1390.4 1677.0,1390.6 1678.0,1391.2 1679.0,1391.9 1680.0,1392.6 1681.0,1392.3 1682.0,1395.0 1683.0,1395.1 1684.0,1395.6 1685.0,1393.6 1686.0,1396.8 1687.0,1394.5 1688.0,1397.2 1689.0,1395.3 1690.0,1396.3 1691.0,1397.2 1692.0,1397.1 1693.0,1396.9 1694.0,1397.0 1695.0,1397.2 1696.0,1399.7 1697.0,1398.8 1698.0,1399.7 1699.0,1397.8 1700.0,1399.8 1701.0,1400.9 1702.0,1400.7 1703.0,1401.6 1704.0,1401.8 1705.0,1400.3 1706.0,1402.1 1707.0,1399.8 1708.0,1400.3 1709.0,1402.8 1710.0,1403.3 1711.0,1404.7 1712.0,1403.8 1713.0,1406.2 1714.0,1405.1 1715.0,1407.5 1716.0,1406.7 1717.0,1407.8 1718.0,1408.3 1719.0,1409.0 1720.0,1411.5 1721.0,1410.7 1722.0,1413.0 1723.0,1411.0 1724.0,1412.3 1725.0,1411.2 1726.0,1414.9 1727.0,1412.8 1728.0,1414.8 1729.0,1413.5 1730.0,1414.0 1731.0,1414.9 1732.0,1416.9 1733.0,1417.1 1734.0,1416.1 1735.0,1417.0 1736.0,1416.2 1737.0,1417.9 1738.0,1416.6 1739.0,1419.2 1740.0,1417.5 1741.0,1420.3 1742.0,1417.9 1743.0,1417.7 1744.0,1417.2 1745.0,1417.8 1746.0,1418.3 1747.0,1416.3 1748.0,1416.4 1749.0,1417.8 1750.0,1417.9 1751.0,1415.0 1752.0,1415.1 1753.0,1416.8 1754.0,1416.3 1755.0,1414.3 1756.0,1413.5 1757.0,1412.6 1758.0,1414.7 1759.0,1412.9 1760.0,1414.6 1761.0,1414.8 1762.0,1414.0 1763.0,1411.9 1764.0,1411.7 1765.0,1414.1 1766.0,1413.4 1767.0,1413.3 1768.0,1411.5 1769.0,1413.4 1770.0,1412.1 1771.0,1411.3 1772.0,1413.8 1773.0,1412.2 1774.0,1413.7 1775.0,1412.6 1776.0,1412.8 1777.0,1412.5 1778.0,1412.9 1779.0,1413.6 1780.0,1411.9 1781.0,1412.1 1782.0,1414.5 1783.0,1415.5 1784.0,1415.0 1785.0,1413.0 1786.0,1414.4 1787.0,1413.3 1788.0,1414.9 1789.0,1415.0 1790.0,1414.4 1791.0,1415.0 1792.0,1416.0 1793.0,1415.2 1794.0,1415.1 1795.0,1417.0 1796.0,1418.0 1797.0,1417.8 1798.0,1418.9 1799.0,1417.9 1800.0,1417.8 1801.0,1418.7 1802.0,1418.4 1803.0,1418.8 1804.0,1419.8 1805.0,1422.1 1806.0,1422.3 1807.0,1422.8 1808.0,1421.8 1809.0,1421.7 1810.0,1423.8 1811.0,1423.2 1812.0,1422.8 1813.0,1423.8 1814.0,1424.5 1815.0,1423.6 1816.0,1424.2 1817.0,1425.5 1818.0,1426.9 1819.0,1426.6 1820.0,1426.5 1821.0,1426.8 1822.0,1428.0 1823.0,1428.5 1824.0,1428.9 1825.0,1428.1 1826.0,1427.5 1827.0,1429.8 1828.0,1429.1 1829.0,1429.7 1830.0,1431.1 1831.0,1431.3 1832.0,1432.2 1833.0,1432.8 1834.0,1432.7 1835.0,1430.8 1836.0,1430.8 1837.0,1432.3 1838.0,1432.9 1839.0,1434.2 1840.0,1431.7 1841.0,1433.8 1842.0,1434.7 1843.0,1433.9 1844.0,1434.4 1845.0,1436.5 1846.0,1437.2 1847.0,1437.7 1848.0,1438.2 1849.0,1438.4 1850.0,1436.6 1851.0,1438.2 1852.0,1438.2 1853.0,1440.5 1854.0,1439.8 1855.0,1438.7 1856.0,1440.3 1857.0,1439.3 1858.0,1440.9 1859.0,1439.8 1860.0,1439.6 1861.0,1439.8 1862.0,1437.9 1863.0,1437.4 1864.0,1438.5 1865.0,1438.4 1866.0,1436.8 1867.0,1435.9 1868.0,1435.6 1869.0,1437.5 1870.0,1435.3 1871.0,1434.0 1872.0,1433.1 1873.0,1434.8 1874.0,1432.3 1875.0,1432.8 1876.0,1433.2 1877.0,1430.7 1878.0,1430.7 1879.0,1430.7 1880.0,1431.4 1881.0,1428.2 1882.0,1429.0 1883.0,1428.2 1884.0,1428.5 1885.0,1428.6 1886.0,1426.0 1887.0,1427.9 1888.0,1425.9 1889.0,1425.4 1890.0,1424.6 1891.0,1423.9 1892.0,1425.0 1893.0,1425.4 1894.0,1424.4 1895.0,1427.1 1896.0,1425.3 1897.0,1427.3 1898.0,1425.7 1899.0,1425.4 1900.0,1427.2 1901.0,1427.2 1902.0,1424.9 1903.0,1425.6 1904.0,1427.1 1905.0,1424.1 1906.0,1424.5 1907.0,1425.9 1908.0,1425.2 1909.0,1426.1 1910.0,1425.3 1911.0,1427.7 1912.0,1426.1 1913.0,1426.9 1914.0,1425.8 1915.0,1426.9 1916.0,1425.5 1917.0,1428.0 1918.0,1427.5 1919.0,1429.2 1920.0,1430.9 1921.0,1429.6 1922.0,1434.1 1923.0,1434.6 1924.0,1433.6 1925.0,1436.6 1926.0,1435.8 1927.0,1433.9 1928.0,1434.2 1929.0,1432.8 1930.0,1433.4 1931.0,1432.8 1932.0,1431.4 1933.0,1431.1 1934.0,1430.6 1935.0,1431.3 1936.0,1430.0 1937.0,1430.7 1938.0,1429.0 1939.0,1430.7 1940.0,1430.9 1941.0,1430.0 1942.0,1433.0 1943.0,1433.1 1944.0,1433.4 1945.0,1433.7 1946.0,1435.4 1947.0,1438.2 1948.0,1435.5 1949.0,1437.0 1950.0,1438.9 1951.0,1439.3 1952.0,1440.3 1953.0,1440.7 1954.0,1442.8 1955.0,1444.4 1956.0,1444.7 1957.0,1444.8 1958.0,1443.8 1959.0,1444.2 1960.0,1443.4 1961.0,1443.8 1962.0,1442.3 1963.0,1444.0 1964.0,1441.3 1965.0,1442.5 1966.0,1440.4 1967.0,1440.6 1968.0,1442.9 1969.0,1440.6 1970.0,1440.1 1971.0,1441.0 1972.0,1442.3 1973.0,1442.7 1974.0,1443.8 1975.0,1441.5 1976.0,1443.4 1977.0,1444.3 1978.0,1445.4 1979.0,1443.3 1980.0,1444.7 1981.0,1444.5 1982.0,1443.7 1983.0,1445.0 1984.0,1443.2 1985.0,1445.0 1986.0,1443.9 1987.0,1442.7 1988.0,1440.8 1989.0,1440.9 1990.0,1440.2 1991.0,1442.0 1992.0,1438.9 1993.0,1439.9 1994.0,1439.9 1995.0,1440.5 1996.0,1439.2 1997.0,1436.7 1998.0,1436.4 1999.0,1436.2 2000.0,1437.7 2001.0,1434.0 2002.0,1434.0 2003.0,1431.4 2004.0,1427.8 2005.0,1427.2 2006.0,1423.7 2007.0,1421.9 2008.0,1422.6 2009.0,1421.9 2010.0,1423.5 2011.0,1422.9 2012.0,1423.4 2013.0,1423.0 2014.0,1424.2 2015.0,1424.5 2016.0,1425.7 2017.0,1425.8 2018.0,1425.1 2019.0,1425.1 2020.0,1424.3 2021.0,1424.3 2022.0,1422.2 2023.0,1422.1 2024.0,1421.4 2025.0,1420.0 2026.0,1419.4 2027.0,1419.0 2028.0,1421.3 2029.0,1421.2 2030.0,1420.5 2031.0,1420.0 2032.0,1419.3 2033.0,1421.5 2034.0,1419.3 2035.0,1420.7 2036.0,1419.8 2037.0,1421.1 2038.0,1421.7 2039.0,1421.3 2040.0,1422.3 2041.0,1420.1 2042.0,1420.1 2043.0,1422.1 2044.0,1421.7 2045.0,1422.1 2046.0,1424.1 2047.0,1425.4 2048.0,1427.0 2049.0,1425.8 2050.0,1427.1 2051.0,1427.7 2052.0,1428.4 2053.0,1429.2 2054.0,1428.8 2055.0,1432.6 2056.0,1434.5 2057.0,1435.3 2058.0,1435.1 2059.0,1436.0 2060.0,1438.4 2061.0,1439.7 2062.0,1441.1 2063.0,1443.1 2064.0,1444.2 2065.0,1444.3 2066.0,1442.7 2067.0,1442.9 2068.0,1442.5 2069.0,1444.6 2070.0,1444.0 2071.0,1442.6 2072.0,1442.3 2073.0,1443.5 2074.0,1443.2 2075.0,1441.2 2076.0,1442.8 2077.0,1441.0 2078.0,1443.0 2079.0,1441.9 2080.0,1441.4 2081.0,1441.1 2082.0,1440.6 2083.0,1440.7 2084.0,1439.5 2085.0,1438.7 2086.0,1440.9 2087.0,1440.8 2088.0,1437.6 2089.0,1439.8 2090.0,1438.0 2091.0,1436.8 2092.0,1438.1 2093.0,1437.9 2094.0,1435.7 2095.0,1437.3 2096.0,1434.8 2097.0,1435.8 2098.0,1434.1 2099.0,1435.2 2100.0,1431.9 2101.0,1433.5 2102.0,1433.3 2103.0,1432.7 2104.0,1430.1 2105.0,1429.7 2106.0,1429.3 2107.0,1430.9 2108.0,1428.5 2109.0,1428.4 2110.0,1426.7 2111.0,1427.1 2112.0,1427.1 2113.0,1425.7 2114.0,1424.7 2115.0,1424.5 2116.0,1421.3 2117.0,1420.4 2118.0,1422.2 2119.0,1419.4 2120.0,1420.3 2121.0,1418.8 2122.0,1419.0 2123.0,1418.2 2124.0,1417.4 2125.0,1416.2 2126.0,1417.6 2127.0,1416.0 2128.0,1414.9 2129.0,1414.7 2130.0,1413.6 2131.0,1414.9 2132.0,1415.5 2133.0,1412.3 2134.0,1414.6 2135.0,1414.3 2136.0,1411.9 2137.0,1414.0 2138.0,1414.0 2139.0,1414.8 2140.0,1412.1 2141.0,1412.7 2142.0,1414.2 2143.0,1413.4 2144.0,1413.3 2145.0,1414.3 2146.0,1416.3 2147.0,1417.6 2148.0,1417.4 2149.0,1419.5 2150.0,1420.3 2151.0,1421.6 2152.0,1422.9 2153.0,1423.8 2154.0,1425.4 2155.0,1425.6 2156.0,1423.5 2157.0,1426.1 2158.0,1424.7 2159.0,1426.6 2160.0,1426.0 2161.0,1428.3 2162.0,1428.3 2163.0,1429.9 2164.0,1430.7 2165.0,1429.2 2166.0,1429.2 2167.0,1431.2 2168.0,1429.0 2169.0,1431.6 2170.0,1429.6 2171.0,1429.6 2172.0,1430.6 2173.0,1431.5 2174.0,1432.0 2175.0,1432.6 2176.0,1432.0 2177.0,1432.6 2178.0,1431.5 2179.0,1432.9 2180.0,1431.3 2181.0,1434.4 2182.0,1433.8 2183.0,1434.3 2184.0,1432.3 2185.0,1434.0 2186.0,1434.0 2187.0,1434.1 2188.0,1436.6 2189.0,1436.1 2190.0,1435.4 2191.0,1435.8 2192.0,1437.7 2193.0,1437.4 2194.0,1439.9 2195.0,1441.3 2196.0,1441.7 2197.0,1441.1 2198.0,1440.5 2199.0,1440.9 2200.0,1441.2 2201.0,1441.1 2202.0,1437.7 2203.0,1437.5 2204.0,1437.3 2205.0,1439.9 2206.0,1438.8 2207.0,1436.8 2208.0,1437.9 2209.0,1437.9 2210.0,1437.3 2211.0,1438.1 2212.0,1434.7 2213.0,1435.2 2214.0,1435.7 2215.0,1434.6 2216.0,1431.9 2217.0,1433.0 2218.0,1433.7 2219.0,1431.0 2220.0,1430.5 2221.0,1429.6 2222.0,1428.4 2223.0,1428.9 2224.0,1428.0 2225.0,1427.7 2226.0,1427.7 2227.0,1429.5 2228.0,1426.2 2229.0,1427.2 2230.0,1426.9 2231.0,1425.9 2232.0,1426.1 2233.0,1424.9 2234.0,1425.5 2235.0,1425.1 2236.0,1426.2 2237.0,1423.2 2238.0,1425.0 2239.0,1424.6 2240.0,1424.3 2241.0,1426.2 2242.0,1426.0 2243.0,1425.8 2244.0,1426.9 2245.0,1424.8 2246.0,1427.2 2247.0,1425.7 2248.0,1426.6 2249.0,1426.4 2250.0,1427.2 2251.0,1426.5 2252.0,1427.3 2253.0,1425.5 2254.0,1426.2 2255.0,1427.1 2256.0,1425.7 2257.0,1426.9 2258.0,1427.1 2259.0,1427.2 2260.0,1426.6 2261.0,1426.5 2262.0,1427.6 2263.0,1426.5 2264.0,1427.0 2265.0,1427.1 2266.0,1427.3 2267.0,1427.5 2268.0,1427.6 2269.0,1427.2 2270.0,1427.5 2271.0,1427.6 2272.0,1427.9 2273.0,1427.9 2274.0,1427.8 2275.0,1427.9 2276.0,1428.0" stroke="#0000ff" stroke-width="3.5"/>
<path d="M402.0,612.5 403.7,611.9 405.3,614.2 407.0,612.5 408.7,617.8 410.3,625.2 412.0,621.7 413.3,618.4 414.7,605.5 416.0,596.5 417.5,600.0 419.0,598.5 420.5,595.2 422.0,590.2 423.5,593.7 425.0,587.4 426.5,591.2 428.0,586.1 429.5,584.4 431.0,584.7 432.5,583.8 434.0,581.3 435.5,586.8 437.0,585.5 438.5,581.4 440.0,582.2 441.6,581.6 443.2,581.1 444.8,584.3 446.4,583.6 448.0,587.2 449.4,579.6 450.8,580.9 452.2,577.9 453.6,576.1 455.0,578.2 456.5,580.1 458.0,572.2 459.3,577.9 460.7,573.8 462.0,581.6 463.7,577.1 465.3,573.7 467.0,579.4 468.6,569.6 470.2,576.4 471.8,569.1 473.4,574.2 475.0,570.7 476.6,575.7 478.2,577.5 479.8,576.5 481.4,577.9 483.0,575.2 484.6,578.5 486.2,578.6 487.8,572.9 489.4,578.6 491.0,576.9 492.5,584.3 494.0,584.7 495.5,577.8 497.0,574.5 498.5,569.9 500.0,564.6 501.4,556.1 502.9,552.6 504.3,564.1 505.7,554.3 507.1,563.0 508.6,565.1 510.0,565.1 511.4,556.3 512.8,564.8 514.2,559.1 515.6,558.2 517.0,560.7 518.7,557.1 520.3,555.9 522.0,554.5 523.7,555.1 525.3,560.8 527.0,561.6 528.6,553.7 530.2,556.3 531.8,555.6 533.4,562.8 535.0,556.9 536.6,554.6 538.2,554.4 539.8,551.0 541.4,554.9 543.0,560.1 544.4,559.6 545.8,556.1 547.2,547.5 548.6,551.2 550.0,549.7 551.4,546.1 552.9,545.6 554.3,550.5 555.7,548.6 557.1,546.1 558.6,545.6 560.0,543.7 561.4,546.6 562.8,540.5 564.2,542.7 565.6,536.1 567.0,534.9 568.6,539.5 570.2,539.8 571.8,539.1 573.4,543.2 575.0,549.6 576.4,542.0 577.9,551.8 579.3,548.2 580.7,548.1 582.1,552.9 583.6,548.1 585.0,548.1 586.5,545.9 588.0,551.9 589.5,544.9 591.0,550.5 592.5,550.2 594.0,552.3 595.6,546.9 597.1,552.3 598.7,550.2 600.3,554.3 601.9,548.1 603.4,549.3 605.0,550.3 606.4,553.4 607.9,554.5 609.3,552.9 610.8,550.3 612.2,553.0 613.7,549.3 615.1,549.7 616.6,550.9 618.0,552.3 619.4,551.9 620.9,551.1 622.3,549.7 623.7,554.7 625.1,553.0 626.6,553.2 628.0,554.5 629.5,558.0 631.0,554.7 632.5,559.2 634.0,556.5 635.5,557.3 637.0,558.5 638.5,557.3 640.0,563.0 641.5,565.2 643.0,564.6 644.5,559.3 646.0,560.8 647.5,562.2 649.0,562.8 650.5,558.1 652.0,560.3 653.5,564.8 655.0,562.3 656.5,562.8 658.0,561.6 659.5,560.3 661.0,566.2 662.5,567.0 664.0,562.9 665.5,565.2 667.0,565.7 668.5,568.2 670.0,567.4 671.5,562.9 673.0,563.0 674.5,568.2 676.0,568.7 677.5,564.4 679.0,564.5 680.5,562.8 682.0,565.3 683.5,561.2 685.0,558.8 686.5,566.1 688.0,565.1 689.5,559.4 691.0,566.3 692.5,566.7 694.0,564.3 695.5,561.8 697.0,565.2 698.5,565.3 700.0,573.0 701.4,568.3 702.9,572.1 704.3,571.2 705.7,566.6 707.1,568.9 708.6,568.1 710.0,568.1 711.4,568.6 712.9,565.9 714.3,573.5 715.7,572.7 717.1,572.8 718.6,580.2 720.0,578.7 721.6,572.1 723.1,579.0 724.7,579.2 726.3,577.0 727.9,581.1 729.4,582.2 731.0,577.3 732.6,580.7 734.1,577.9 735.7,578.6 737.3,584.8 738.9,579.7 740.4,594.0 742.0,591.6 743.6,586.3 745.1,593.1 746.7,598.4 748.3,600.3 749.9,601.0 751.4,595.7 753.0,607.2 754.5,609.6 756.0,604.3 757.5,603.9 759.0,611.3 760.5,601.2 762.0,611.4 763.6,612.9 765.2,607.3 766.8,611.4 768.4,615.8 770.0,613.0 771.4,616.9 772.9,616.6 774.3,621.5 775.7,619.7 777.1,620.9 778.6,624.8 780.0,626.6 781.4,626.1 782.8,630.8 784.2,629.8 785.6,633.7 787.0,634.1 788.5,639.4 790.0,640.7 791.5,644.6 793.0,649.5 794.5,650.3 796.0,654.1 797.5,659.1 799.0,663.9 800.7,667.6 802.3,674.8 804.0,680.8 805.3,684.6 806.7,689.7 808.0,694.8 809.4,695.5 810.9,698.7 812.3,701.6 813.7,703.3 815.1,703.4 816.6,705.0 818.0,705.7 819.5,712.8 821.0,717.0 822.5,723.2 824.0,729.8 825.5,736.0 827.0,744.0 828.5,750.5 830.0,753.5 831.6,758.0 833.2,760.2 834.8,764.3 836.4,770.2 838.0,772.6 839.6,776.9 841.2,781.3 842.8,784.0 844.4,787.0 846.0,791.5 847.5,795.3 849.0,799.0 850.5,802.6 852.0,804.8 853.3,811.8 854.7,814.6 856.0,821.1 857.3,821.6 858.7,822.0 860.0,822.4 861.3,832.8 862.7,839.1 864.0,847.4 865.6,851.6 867.2,856.0 868.8,858.8 870.4,865.1 872.0,866.7 873.5,876.1 875.0,884.7 876.5,891.3 878.0,899.6 879.4,901.9 880.9,905.5 882.3,906.8 883.7,910.5 885.1,912.1 886.6,914.3 888.0,918.1 889.5,921.8 891.0,925.3 892.5,926.3 894.0,929.9 895.5,933.4 897.0,935.2 898.3,940.9 899.7,947.9 901.0,954.5 902.6,959.5 904.2,965.3 905.8,972.4 907.4,977.3 909.0,982.3 910.6,983.9 912.2,987.5 913.8,990.0 915.4,991.9 917.0,996.6 918.6,1000.9 920.2,1005.8 921.8,1014.4 923.4,1017.9 925.0,1026.8 926.5,1031.0 928.0,1034.7 929.5,1037.6 931.0,1041.9 932.5,1046.5 934.0,1050.4 935.5,1055.9 937.0,1060.0 938.6,1067.8 940.2,1072.1 941.8,1075.1 943.4,1081.7 945.0,1087.1 946.6,1090.1 948.1,1094.9 949.7,1098.4 951.3,1100.7 952.9,1105.1 954.4,1109.7 956.0,1113.9 957.4,1118.5 958.9,1120.5 960.3,1127.3 961.7,1129.8 963.1,1134.6 964.6,1138.8 966.0,1143.9 967.6,1146.8 969.2,1148.6 970.8,1152.4 972.4,1156.1 974.0,1158.6 975.6,1165.2 977.2,1170.1 978.8,1174.8 980.4,1180.4 982.0,1182.5 983.6,1188.5 985.2,1195.0 986.8,1198.9 988.4,1204.9 990.0,1210.1 991.3,1218.8 992.7,1223.4 994.0,1232.1 995.6,1236.1 997.2,1241.9 998.8,1247.8 1000.4,1250.8 1002.0,1256.5 1003.3,1260.1 1004.7,1265.9 1006.0,1270.9 1007.5,1277.7 1009.0,1284.3 1010.5,1291.0 1012.0,1297.1 1013.5,1302.4 1015.0,1307.6 1016.5,1311.5 1018.0,1317.0 1019.4,1321.1 1020.8,1323.4 1022.2,1327.5 1023.6,1331.6 1025.0,1334.1 1026.5,1339.2 1028.0,1343.6 1029.5,1347.7 1031.0,1350.7 1032.5,1355.4 1034.0,1359.5 1035.5,1365.2 1037.0,1368.3 1038.5,1373.5 1040.0,1378.1 1041.5,1381.9 1043.0,1386.2 1044.5,1389.1 1046.0,1391.7 1047.5,1394.3 1049.0,1397.6 1050.6,1399.6 1052.2,1402.4 1053.8,1404.7 1055.4,1406.7 1057.0,1409.4 1058.6,1410.1 1060.1,1411.8 1061.7,1413.5 1063.3,1415.1 1064.9,1417.0 1066.4,1418.2 1068.0,1420.6 1069.5,1421.5 1071.0,1423.6 1072.5,1425.0 1074.0,1425.3 1075.5,1427.0 1077.0,1428.7 1078.5,1429.8 1080.0,1432.3 1081.4,1431.8 1082.9,1432.1 1084.3,1433.8 1085.7,1435.3 1087.1,1434.0 1088.6,1433.8 1090.0,1435.5 1091.5,1437.6 1093.0,1434.8 1094.5,1436.8 1096.0,1435.3 1097.5,1437.0 1099.0,1435.8 1100.5,1434.8 1102.0,1436.9 1103.5,1435.5 1105.0,1437.0 1106.5,1435.8 1108.0,1436.3 1109.5,1435.5 1111.0,1435.3 1112.5,1437.1 1114.0,1436.9 1115.5,1434.7 1117.0,1434.9 1118.5,1437.2 1120.0,1437.2 1121.5,1435.4 1123.0,1435.4 1124.5,1434.9 1126.0,1437.1 1127.5,1434.9 1129.0,1436.1 1130.5,1437.0 1132.0,1436.8 1133.5,1436.4 1135.0,1435.0 1136.5,1437.4 1138.0,1435.5 1139.5,1437.4 1141.0,1437.6 1142.5,1436.0 1144.0,1435.0 1145.5,1434.9 1147.0,1434.4 1148.5,1436.8 1150.0,1436.6 1151.5,1435.3 1153.0,1435.4 1154.5,1436.5 1156.0,1437.0 1157.5,1436.7 1159.0,1434.0 1160.5,1435.5 1162.0,1436.8 1163.5,1435.9 1165.0,1436.1 1166.5,1434.5 1168.0,1435.2 1169.5,1436.7 1171.0,1436.8 1172.5,1437.2 1174.0,1435.4 1175.5,1436.1 1177.0,1436.5 1178.5,1437.3 1180.0,1435.7 1181.5,1434.7 1183.0,1436.2 1184.5,1436.7 1186.0,1436.8 1187.5,1436.8 1189.0,1435.7 1190.5,1435.8 1192.0,1437.5 1193.5,1437.3 1195.0,1435.4 1196.5,1435.8 1198.0,1437.4 1199.5,1436.1 1201.0,1435.6 1202.5,1435.4 1204.0,1437.1 1205.5,1436.1 1207.0,1436.5 1208.5,1435.8 1210.0,1435.6 1211.5,1436.7 1213.0,1436.2 1214.5,1435.9 1216.0,1436.7 1217.5,1437.8 1219.0,1436.1 1220.5,1437.6 1222.0,1434.4 1223.5,1437.1 1225.0,1435.2 1226.5,1436.4 1228.0,1436.6 1229.5,1436.9 1231.0,1435.3 1232.5,1435.9 1234.0,1435.6 1235.5,1437.1 1237.0,1436.5 1238.5,1435.3 1240.0,1434.7 1241.5,1436.7 1243.0,1435.2 1244.5,1437.2 1246.0,1435.4 1247.5,1435.5 1249.0,1437.2 1250.5,1437.5 1252.0,1436.5 1253.5,1435.0 1255.0,1434.9 1256.5,1434.9 1258.0,1436.9 1259.5,1435.3 1261.0,1436.4 1262.5,1434.5 1264.0,1435.1 1265.5,1436.5 1267.0,1434.8 1268.5,1435.2 1270.0,1434.4 1271.5,1435.8 1273.0,1436.1 1274.5,1436.2 1276.0,1434.3 1277.5,1436.3 1279.0,1435.0 1280.5,1435.4 1282.0,1437.2 1283.5,1435.5 1285.0,1435.3 1286.5,1435.6 1288.0,1435.3 1289.5,1434.8 1291.0,1437.5 1292.5,1436.0 1294.0,1437.1 1295.5,1434.5 1297.0,1436.2 1298.5,1434.5 1300.0,1436.5 1301.5,1434.8 1303.0,1437.0 1304.5,1436.0 1306.0,1435.2 1307.5,1435.6 1309.0,1436.7 1310.4,1436.7 1311.9,1434.6 1313.4,1436.6 1314.9,1436.7 1316.4,1434.0 1317.9,1433.8 1319.4,1434.2 1320.9,1433.9 1322.4,1436.6 1323.9,1435.6 1325.4,1435.2 1326.9,1433.9 1328.4,1436.4 1329.9,1433.8 1331.3,1436.3 1332.8,1433.8 1334.3,1434.8 1335.8,1435.8 1337.3,1435.8 1338.8,1436.2 1340.3,1434.9 1341.8,1435.9 1343.3,1435.0 1344.8,1435.6 1346.3,1436.2 1347.8,1433.6 1349.3,1433.6 1350.7,1433.5 1352.2,1433.5 1353.7,1433.7 1355.2,1433.1 1356.7,1435.7 1358.2,1433.7 1359.7,1435.3 1361.2,1435.4 1362.7,1433.6 1364.2,1432.6 1365.7,1432.4 1367.2,1434.0 1368.7,1435.4 1370.1,1432.6 1371.6,1435.0 1373.1,1432.1 1374.6,1432.9 1376.1,1432.9 1377.6,1433.5 1379.1,1434.5 1380.6,1433.1 1382.1,1433.3 1383.6,1434.9 1385.1,1432.6 1386.6,1434.7 1388.1,1433.3 1389.6,1434.6 1391.0,1434.8 1392.5,1433.8 1394.0,1434.8 1395.5,1433.3 1397.0,1433.2 1398.5,1433.4 1400.0,1431.5 1401.5,1433.1 1403.0,1434.9 1404.5,1432.1 1406.0,1432.2 1407.5,1431.5 1409.0,1434.5 1410.5,1433.1 1412.0,1433.1 1413.5,1431.7 1415.0,1434.7 1416.5,1432.1 1418.0,1434.4 1419.5,1433.2 1421.0,1433.9 1422.5,1432.4 1424.0,1432.8 1425.5,1432.4 1427.0,1432.9 1428.5,1434.7 1430.0,1434.4 1431.5,1432.5 1433.0,1431.9 1434.5,1433.1 1436.0,1432.7 1437.5,1431.8 1439.0,1431.9 1440.5,1432.0 1442.0,1432.9 1443.5,1433.2 1445.0,1431.7 1446.5,1433.4 1448.0,1432.5 1449.5,1432.9 1451.0,1433.3 1452.5,1432.0 1454.0,1431.7 1455.5,1433.3 1457.0,1434.1 1458.5,1433.2 1460.0,1432.6 1461.5,1434.5 1463.0,1433.7 1464.5,1431.6 1466.0,1431.8 1467.5,1434.2 1469.0,1432.7 1470.5,1431.9 1472.0,1432.4 1473.5,1433.9 1475.0,1434.4 1476.5,1433.9 1478.0,1433.7 1479.5,1432.0 1481.0,1431.8 1482.5,1432.6 1484.0,1433.0 1485.5,1432.4 1487.0,1432.5 1488.5,1434.5 1490.0,1431.8 1491.5,1432.1 1493.0,1432.4 1494.5,1433.4 1496.0,1434.6 1497.5,1431.9 1499.0,1434.2 1500.5,1434.6 1502.0,1432.7 1503.5,1433.7 1505.0,1434.0 1506.5,1433.6 1508.0,1432.4 1509.5,1432.9 1511.0,1432.7 1512.5,1432.3 1514.0,1433.0 1515.5,1432.2 1517.0,1432.5 1518.5,1432.5 1520.0,1432.9 1521.5,1432.9 1523.0,1434.7 1524.5,1433.8 1526.0,1433.0 1527.5,1432.0 1529.0,1431.7 1530.5,1434.5 1532.0,1432.2 1533.5,1434.5 1535.0,1432.3 1536.5,1433.5 1538.0,1434.5 1539.5,1432.2 1541.0,1434.6 1542.5,1433.4 1544.0,1431.5 1545.5,1433.5 1547.0,1431.6 1548.5,1433.9 1550.0,1434.2 1551.5,1434.0 1553.0,1432.1 1554.5,1433.0 1556.0,1434.2 1557.5,1431.5 1559.0,1432.5 1560.5,1432.0 1562.0,1433.4 1563.5,1433.2 1565.0,1433.8 1566.5,1432.5 1568.0,1432.5 1569.5,1433.8 1571.0,1434.6 1572.5,1432.9 1574.0,1431.4 1575.5,1432.0 1577.0,1434.4 1578.5,1433.9 1580.0,1432.8 1581.5,1431.7 1583.0,1432.1 1584.5,1434.5 1586.0,1431.8 1587.5,1432.7 1589.0,1434.7 1590.5,1433.8 1592.0,1433.3 1593.5,1433.0 1595.0,1434.6 1596.5,1431.9 1598.0,1434.1 1599.5,1432.8 1601.0,1433.2 1602.5,1431.7 1604.0,1433.1 1605.5,1432.1 1607.0,1433.7 1608.5,1432.6 1610.0,1432.6 1611.5,1433.0 1613.0,1431.7 1614.5,1433.5 1616.0,1432.3 1617.5,1432.8 1619.0,1431.5 1620.5,1433.6 1622.0,1432.5 1623.5,1431.3 1625.0,1432.2 1626.5,1431.4 1628.0,1433.0 1629.5,1433.1 1631.0,1433.0 1632.5,1432.8 1634.0,1433.9 1635.5,1431.5 1637.0,1433.5 1638.5,1432.8 1640.0,1431.8 1641.5,1432.8 1643.0,1432.5 1644.5,1433.7 1646.0,1432.6 1647.5,1432.7 1649.0,1431.4 1650.5,1434.5 1652.0,1435.0 1653.5,1434.4 1655.0,1432.4 1656.5,1432.4 1658.0,1432.1 1659.5,1434.2 1661.0,1432.4 1662.5,1433.9 1664.0,1433.6 1665.5,1433.1 1667.0,1433.9 1668.5,1434.1 1670.0,1432.2 1671.5,1431.4 1673.0,1431.7 1674.5,1433.6 1676.0,1434.9 1677.5,1434.3 1679.0,1432.6 1680.5,1434.1 1682.0,1432.9 1683.5,1431.8 1685.0,1431.7 1686.5,1433.4 1688.0,1434.6 1689.5,1434.4 1691.0,1432.5 1692.5,1432.1 1694.0,1433.2 1695.5,1432.5 1697.0,1434.5 1698.5,1434.3 1700.0,1434.0 1701.5,1433.9 1703.0,1432.3 1704.5,1433.7 1706.0,1432.2 1707.5,1434.1 1709.0,1433.2 1710.5,1433.6 1712.0,1432.6 1713.5,1433.7 1715.0,1431.3 1716.5,1432.2 1718.0,1432.5 1719.5,1433.6 1721.0,1431.7 1722.5,1431.5 1724.0,1432.6 1725.5,1432.6 1727.0,1433.3 1728.5,1431.4 1730.0,1434.0 1731.5,1432.5 1733.0,1433.3 1734.5,1433.4 1736.0,1432.2 1737.5,1432.9 1739.0,1431.7 1740.5,1434.4 1742.0,1434.5 1743.5,1432.6 1745.0,1432.8 1746.5,1432.8 1748.0,1435.0 1749.5,1433.7 1751.0,1434.9 1752.5,1432.6 1754.0,1431.2 1755.5,1431.6 1757.0,1434.0 1758.5,1432.8 1760.0,1433.1 1761.5,1434.9 1763.0,1432.2 1764.5,1433.2 1766.0,1432.3 1767.5,1432.6 1769.0,1432.5 1770.5,1432.3 1772.0,1432.2 1773.5,1431.5 1775.0,1434.3 1776.5,1434.4 1778.0,1433.0 1779.5,1434.1 1781.0,1433.8 1782.5,1432.9 1784.0,1432.5 1785.5,1432.1 1787.0,1432.1 1788.5,1431.1 1790.0,1432.4 1791.5,1432.3 1793.0,1432.3 1794.5,1431.8 1796.0,1432.6 1797.5,1432.1 1799.0,1433.4 1800.5,1432.0 1802.0,1432.2 1803.5,1433.1 1805.0,1431.9 1806.5,1434.5 1808.0,1432.9 1809.5,1433.3 1811.0,1433.6 1812.5,1433.3 1814.0,1432.8 1815.5,1434.1 1817.0,1432.3 1818.5,1432.3 1820.0,1431.4 1821.5,1433.6 1823.0,1433.0 1824.5,1433.3 1826.0,1434.1 1827.5,1434.8 1829.0,1433.3 1830.5,1432.1 1832.0,1434.5 1833.5,1432.4 1835.0,1433.6 1836.5,1432.6 1838.0,1432.3 1839.5,1431.9 1841.0,1431.7 1842.5,1434.0 1844.0,1433.6 1845.5,1432.9 1847.0,1432.0 1848.5,1432.7 1850.0,1432.3 1851.5,1431.7 1853.0,1433.7 1854.5,1433.2 1856.0,1433.9 1857.5,1434.3 1859.0,1433.6 1860.5,1433.5 1862.0,1433.8 1863.5,1434.0 1865.0,1432.0 1866.5,1434.7 1868.0,1432.2 1869.5,1434.0 1871.0,1432.1 1872.5,1434.3 1874.0,1434.1 1875.5,1431.5 1877.0,1433.7 1878.5,1432.4 1880.0,1432.2 1881.5,1434.3 1883.0,1434.6 1884.5,1434.7 1886.0,1434.2 1887.5,1434.2 1889.0,1431.9 1890.5,1433.4 1892.0,1432.5 1893.5,1433.7 1895.0,1432.2 1896.5,1431.6 1898.0,1431.6 1899.5,1432.9 1901.0,1432.4 1902.5,1433.4 1904.0,1434.0 1905.5,1434.6 1907.0,1434.6 1908.5,1434.6 1910.0,1432.7 1911.5,1434.5 1913.0,1434.3 1914.5,1434.0 1916.0,1433.4 1917.5,1434.1 1919.0,1432.5 1920.5,1433.5 1922.0,1432.1 1923.5,1433.6 1925.0,1434.6 1926.5,1433.1 1928.0,1431.9 1929.5,1432.9 1931.0,1431.5 1932.5,1432.6 1934.0,1434.0 1935.5,1432.7 1937.0,1431.9 1938.5,1433.8 1940.0,1433.8 1941.5,1433.9 1943.0,1432.7 1944.5,1434.9 1946.0,1433.7 1947.5,1432.4 1949.0,1433.7 1950.5,1433.9 1952.0,1434.0 1953.5,1432.3 1955.0,1432.8 1956.5,1431.9 1958.0,1432.4 1959.5,1432.3 1961.0,1432.3 1962.5,1434.4 1964.0,1433.0 1965.5,1433.3 1967.0,1433.7 1968.5,1433.3 1970.0,1432.7 1971.5,1433.8 1973.0,1431.0 1974.5,1431.0 1976.0,1433.7 1977.5,1432.6 1979.0,1431.6 1980.5,1432.8 1982.0,1433.4 1983.5,1434.3 1985.0,1432.9 1986.5,1434.1 1988.0,1434.6 1989.5,1432.2 1991.0,1433.6 1992.5,1432.7 1994.0,1433.0 1995.5,1433.6 1997.0,1432.5 1998.5,1432.2 2000.0,1433.9 2001.5,1433.9 2003.0,1432.3 2004.5,1431.6 2006.0,1434.1 2007.5,1434.2 2009.0,1432.8 2010.5,1433.2 2012.0,1432.6 2013.5,1433.9 2015.0,1434.5 2016.5,1434.1 2018.0,1432.0 2019.5,1431.5 2021.0,1433.6 2022.5,1432.6 2024.0,1433.0 2025.5,1431.7 2027.0,1432.9 2028.5,1433.6 2030.0,1434.1 2031.5,1432.7 2033.0,1432.8 2034.5,1432.0 2036.0,1431.6 2037.5,1433.8 2039.0,1433.9 2040.5,1431.3 2042.0,1431.2 2043.5,1433.6 2045.0,1431.5 2046.5,1432.8 2048.0,1434.2 2049.5,1431.9 2051.0,1433.3 2052.5,1431.6 2054.0,1431.9 2055.5,1434.5 2057.0,1432.4 2058.5,1433.8 2060.0,1433.5 2061.5,1432.9 2063.0,1432.0 2064.5,1432.1 2066.0,1433.3 2067.5,1432.7 2069.0,1433.6 2070.5,1433.6 2072.0,1433.2 2073.5,1433.1 2075.0,1433.6 2076.5,1433.4 2078.0,1432.7 2079.5,1431.9 2081.0,1431.6 2082.5,1433.9 2084.0,1432.3 2085.5,1433.8 2087.0,1431.9 2088.5,1434.6 2090.0,1432.6 2091.5,1432.0 2093.0,1434.1 2094.5,1432.3 2096.0,1432.7 2097.5,1431.5 2099.0,1432.6 2100.5,1432.9 2102.0,1432.4 2103.5,1434.2 2105.0,1432.6 2106.5,1432.7 2108.0,1433.3 2109.5,1432.3 2111.0,1433.6 2112.5,1434.3 2114.0,1432.2 2115.5,1434.2 2117.0,1434.1 2118.5,1433.0 2120.0,1432.3 2121.5,1434.5 2123.0,1433.1 2124.5,1434.4 2126.0,1433.7 2127.5,1432.8 2129.0,1431.8 2130.5,1433.7 2132.0,1432.5 2133.5,1432.6 2135.0,1432.7 2136.5,1434.2 2138.0,1433.1 2139.5,1433.4 2141.0,1433.2 2142.5,1434.9 2144.0,1433.8 2145.5,1431.8 2147.0,1432.5 2148.5,1431.5 2150.0,1433.3 2151.5,1433.7 2153.0,1434.1 2154.5,1434.3 2156.0,1432.4 2157.5,1432.4 2159.0,1433.7 2160.5,1433.3 2162.0,1434.3 2163.5,1433.2 2165.0,1432.7 2166.5,1432.9 2168.0,1431.8 2169.5,1433.8 2171.0,1434.1 2172.5,1431.4 2174.0,1432.9 2175.5,1433.3 2177.0,1432.3 2178.5,1434.0 2180.0,1434.1 2181.5,1431.8 2183.0,1433.0 2184.5,1432.1 2186.0,1433.1 2187.5,1431.9 2189.0,1432.3 2190.5,1431.7 2192.0,1433.3 2193.5,1432.9 2195.0,1432.3 2196.5,1432.8 2198.0,1433.5 2199.5,1434.1 2201.0,1434.4 2202.5,1431.8 2204.0,1434.3 2205.5,1433.0 2207.0,1434.1 2208.5,1433.0 2210.0,1432.6 2211.5,1433.4 2213.0,1433.0 2214.5,1432.3 2216.0,1433.9 2217.5,1434.1 2219.0,1434.2 2220.5,1434.4 2222.0,1431.4 2223.5,1433.9 2225.0,1434.3 2226.5,1433.4 2228.0,1433.7 2229.5,1434.7 2231.0,1434.1 2232.5,1433.0 2234.0,1434.2 2235.5,1434.2 2237.0,1434.3 2238.5,1431.0 2240.0,1431.9 2241.5,1434.1 2243.0,1433.8 2244.5,1432.5 2246.0,1433.5 2247.5,1431.4 2249.0,1431.6 2250.5,1432.7 2252.0,1433.0 2253.5,1432.7 2255.0,1433.6 2256.5,1431.9 2258.0,1432.7 2259.5,1432.5 2261.0,1434.1 2262.5,1433.6 2264.0,1432.4 2265.5,1432.8 2267.0,1432.6 2268.5,1434.5 2270.0,1434.0 2271.5,1432.7 2273.0,1432.0 2274.5,1433.1 2276.0,1433.0" stroke="#000" stroke-width="3.1"/>
<path d="M404.0,572.0 404.0,545.0 405.3,545.0 406.7,545.0 408.0,545.0 408.0,452.0 409.3,454.5 410.7,456.8 412.0,452.3 413.3,457.0 414.7,452.7 416.0,456.5 417.0,422.0 418.3,421.9 419.7,421.8 421.0,423.0 422.3,421.5 423.7,421.6 425.0,421.8 427.0,376.0 429.0,380.0 431.0,412.3 432.7,409.2 434.3,411.1 436.0,408.5 437.7,411.1 439.3,410.5 441.0,409.0 442.3,405.9 443.7,405.2 445.0,393.0 446.3,400.3 447.7,397.6 449.0,392.1 450.3,390.1 451.7,387.8 453.0,382.5 454.5,379.5 456.0,393.3 457.3,386.5 458.7,385.1 460.0,394.3 461.7,388.9 463.3,387.6 465.0,385.6 466.7,388.0 468.3,387.0 470.0,383.4 471.7,388.2 473.3,389.1 475.0,383.2 476.3,377.6 477.7,375.8 479.0,366.2 480.7,371.6 482.3,362.4 484.0,362.5 485.5,363.2 487.0,362.1 488.5,362.9 490.0,366.1 491.7,367.7 493.3,363.7 495.0,362.4 496.3,360.2 497.7,358.2 499.0,351.9 500.5,348.4 502.0,346.1 503.5,348.2 505.0,354.8 506.5,351.2 508.0,346.8 509.5,346.7 511.0,347.2 512.3,351.7 513.7,339.6 515.0,333.2 516.5,339.5 518.0,338.0 519.4,340.7 520.8,341.0 522.2,340.6 523.6,341.6 525.0,338.5 526.4,338.1 527.8,340.3 529.2,341.9 530.6,339.3 532.0,342.1 533.6,339.3 535.2,337.7 536.8,335.3 538.4,335.7 540.0,339.9 541.6,336.7 543.2,337.9 544.8,338.9 546.4,339.1 548.0,338.9 549.4,334.7 550.8,333.9 552.2,338.0 553.6,335.4 555.0,336.5 556.7,336.3 558.3,335.0 560.0,334.5 561.7,332.8 563.3,332.2 565.0,334.0 566.4,330.8 567.9,330.9 569.3,331.7 570.7,331.8 572.1,331.3 573.6,331.5 575.0,334.0 576.5,331.1 578.0,331.6 579.5,327.9 581.0,326.8 582.5,326.5 584.0,329.0 585.5,326.8 587.0,328.9 588.5,326.6 590.0,327.5 591.4,328.6 592.9,328.5 594.3,328.3 595.8,328.6 597.2,327.2 598.7,326.2 600.1,327.3 601.6,327.1 603.0,328.4 604.3,329.6 605.7,334.7 607.0,336.2 608.6,338.6 610.2,336.6 611.8,336.0 613.4,338.3 615.0,338.0 616.7,336.6 618.3,333.6 620.0,333.7 621.7,333.1 623.3,332.3 625.0,332.7 626.5,331.0 628.0,326.4 629.5,323.7 631.2,327.4 633.0,332.3 634.3,333.8 635.7,338.2 637.0,337.7 638.7,335.7 640.3,329.2 642.0,329.2 643.6,329.5 645.2,326.1 646.8,326.7 648.4,326.1 650.0,327.3 651.4,327.3 652.9,329.1 654.3,327.5 655.7,330.4 657.1,326.8 658.6,330.3 660.0,331.6 661.5,335.3 663.0,342.7 664.7,339.6 666.3,332.5 668.0,331.9 669.7,330.8 671.3,326.9 673.0,325.0 674.6,323.2 676.1,325.9 677.7,323.9 679.3,324.1 680.9,323.8 682.4,324.3 684.0,323.2 685.3,327.0 686.7,329.9 688.0,332.7 689.5,330.7 691.0,330.2 692.5,332.3 694.0,332.4 695.5,332.4 697.0,331.7 698.5,334.6 700.0,336.6 701.5,339.3 703.0,343.5 704.7,343.6 706.3,341.8 708.0,338.5 709.7,338.7 711.3,335.3 713.0,339.8 714.5,341.4 716.0,346.7 717.5,347.5 719.0,347.1 720.5,347.8 722.0,349.1 723.5,350.0 725.0,348.3 726.5,348.4 728.0,349.9 729.5,350.1 731.0,348.3 732.5,347.3 734.0,345.2 735.5,344.7 737.0,347.2 738.5,345.4 740.0,345.7 741.7,347.7 743.3,352.8 745.0,355.2 746.3,362.5 747.7,368.2 749.0,373.8 750.5,373.2 752.0,371.4 753.5,370.2 755.0,370.0 756.5,371.0 758.0,369.6 759.5,371.5 761.0,371.2 762.5,378.1 764.0,388.9 765.3,387.9 766.7,391.6 768.0,390.3 769.6,393.0 771.1,391.0 772.7,390.8 774.3,392.2 775.9,393.4 777.4,391.2 779.0,390.7 780.5,396.6 782.0,399.6 784.0,411.5 785.7,420.2 787.3,427.9 789.0,436.0 790.7,443.7 792.3,448.5 794.0,454.8 795.4,457.8 796.8,457.6 798.2,457.3 799.6,459.1 801.0,460.6 803.0,481.3 804.7,487.5 806.3,495.0 808.0,500.5 809.7,505.1 811.3,510.5 813.0,517.2 814.4,526.9 815.8,535.2 817.2,545.1 818.6,555.2 820.0,562.8 821.4,568.0 822.9,574.1 824.3,577.1 825.7,580.3 827.1,584.8 828.6,588.9 830.0,593.2 831.3,609.1 832.7,620.6 834.0,633.7 835.4,634.9 836.9,641.4 838.3,645.0 839.7,649.1 841.1,652.8 842.6,656.8 844.0,659.0 845.7,670.1 847.3,679.7 849.0,688.7 850.5,697.6 852.0,703.2 853.5,709.8 855.0,716.4 856.5,723.0 858.0,731.2 859.5,733.6 861.0,736.4 862.5,737.3 864.0,740.7 865.5,748.4 867.0,760.0 868.5,769.3 870.0,777.4 871.5,788.2 873.0,795.7 874.5,804.6 876.0,811.4 877.6,815.8 879.2,820.8 880.8,826.5 882.4,829.1 884.0,834.3 885.3,845.5 886.7,861.1 888.0,873.7 889.5,879.1 891.0,884.4 892.5,890.5 894.0,895.1 895.5,900.9 897.0,905.4 898.6,910.0 900.2,914.5 901.8,916.6 903.4,919.8 905.0,924.3 906.7,937.2 908.3,947.3 910.0,959.1 911.5,976.2 913.0,990.7 914.6,997.1 916.2,1004.5 917.8,1008.5 919.4,1014.0 921.0,1021.0 922.6,1029.6 924.2,1036.4 925.8,1045.7 927.4,1053.0 929.0,1062.5 930.6,1065.6 932.2,1071.4 933.8,1075.1 935.4,1079.4 937.0,1081.4 938.6,1088.7 940.2,1093.1 941.8,1099.6 943.4,1103.9 945.0,1107.7 946.5,1113.5 948.0,1117.1 949.5,1119.9 951.0,1124.7 952.5,1129.3 954.0,1132.6 955.5,1139.1 957.0,1142.2 958.5,1148.9 960.0,1153.5 961.6,1158.0 963.2,1163.0 964.8,1167.6 966.4,1170.5 968.0,1173.2 969.5,1179.9 971.0,1184.2 972.5,1188.1 974.0,1195.2 975.6,1200.3 977.2,1206.0 978.8,1212.2 980.4,1217.5 982.0,1224.3 983.6,1229.1 985.2,1234.2 986.8,1236.4 988.4,1242.4 990.0,1243.5 992.0,1268.3 993.7,1272.4 995.3,1277.8 997.0,1283.0 998.3,1287.6 999.7,1291.5 1001.0,1294.5 1002.7,1300.5 1004.3,1305.0 1006.0,1309.3 1007.7,1313.9 1009.3,1317.7 1011.0,1323.4 1012.5,1326.6 1014.0,1331.6 1015.5,1336.2 1017.0,1340.2 1018.5,1343.9 1020.0,1347.1 1021.5,1350.8 1023.0,1354.7 1024.5,1358.9 1026.0,1364.8 1027.5,1369.8 1029.0,1373.5 1030.6,1378.0 1032.2,1380.0 1033.8,1383.1 1035.4,1386.3 1037.0,1388.7 1038.5,1390.8 1040.0,1393.1 1041.5,1395.7 1043.0,1397.4 1044.5,1399.9 1046.0,1403.4 1047.6,1405.0 1049.1,1406.0 1050.7,1407.9 1052.3,1409.5 1053.9,1411.6 1055.4,1413.2 1057.0,1414.3 1058.6,1415.9 1060.1,1416.3 1061.7,1416.5 1063.3,1418.0 1064.9,1418.7 1066.4,1419.5 1068.0,1421.1 1069.4,1422.7 1070.9,1423.3 1072.3,1424.3 1073.7,1425.9 1075.1,1426.5 1076.6,1427.6 1078.0,1428.8 1079.7,1429.8 1081.3,1430.9 1083.0,1432.0 1084.5,1432.0 1086.0,1432.0 1087.5,1432.0 1089.0,1432.0 1090.5,1432.0 1092.0,1432.0 1093.6,1432.0 1095.1,1432.0 1096.6,1432.0 1098.1,1432.0 1099.6,1432.0 1101.1,1432.0 1102.6,1432.0 1104.1,1432.0 1105.6,1432.0 1107.1,1432.0 1108.6,1432.0 1110.1,1432.0 1111.7,1432.0 1113.2,1432.0 1114.7,1432.0 1116.2,1432.0 1117.7,1432.0 1119.2,1432.0 1120.7,1432.0 1122.2,1432.0 1123.7,1432.0 1125.2,1432.0 1126.7,1432.0 1128.2,1432.0 1129.8,1432.0 1131.3,1432.0 1132.8,1432.0 1134.3,1432.0 1135.8,1432.0 1137.3,1432.0 1138.8,1432.0 1140.3,1432.0 1141.8,1432.0 1143.3,1432.0 1144.8,1432.0 1146.3,1432.0 1147.9,1432.0 1149.4,1432.0 1150.9,1432.0 1152.4,1432.0 1153.9,1432.0 1155.4,1432.0 1156.9,1432.0 1158.4,1432.0 1159.9,1432.0 1161.4,1432.0 1162.9,1432.0 1164.4,1432.0 1166.0,1432.0 1167.5,1432.0 1169.0,1432.0 1170.5,1432.0 1172.0,1432.0 1173.5,1432.0 1175.0,1432.0 1177.0,1428.0 1178.5,1428.0 1180.0,1428.0 1181.5,1428.0 1183.0,1428.0 1184.5,1428.0 1186.0,1428.0 1187.5,1428.0 1189.0,1428.0 1190.5,1428.0 1192.0,1428.0 1193.5,1428.0 1195.0,1428.0 1196.5,1428.0 1198.0,1428.0 1199.5,1428.0 1201.0,1428.0 1202.5,1428.0 1204.0,1428.0 1205.5,1428.0 1207.0,1428.0 1208.5,1428.0 1210.0,1428.0 1211.5,1428.0 1213.0,1428.0 1214.5,1428.0 1216.1,1428.0 1217.6,1428.0 1219.1,1428.0 1220.6,1428.0 1222.1,1428.0 1223.6,1428.0 1225.1,1428.0 1226.6,1428.0 1228.1,1428.0 1229.6,1428.0 1231.1,1428.0 1232.6,1428.0 1234.1,1428.0 1235.6,1428.0 1237.1,1428.0 1238.6,1428.0 1240.1,1428.0 1241.6,1428.0 1243.1,1428.0 1244.6,1428.0 1246.1,1428.0 1247.6,1428.0 1249.1,1428.0 1250.6,1428.0 1252.1,1428.0 1253.6,1428.0 1255.1,1428.0 1256.6,1428.0 1258.1,1428.0 1259.6,1428.0 1261.1,1428.0 1262.6,1428.0 1264.1,1428.0 1265.6,1428.0 1267.1,1428.0 1268.6,1428.0 1270.1,1428.0 1271.6,1428.0 1273.1,1428.0 1274.6,1428.0 1276.1,1428.0 1277.6,1428.0 1279.1,1428.0 1280.6,1428.0 1282.1,1428.0 1283.6,1428.0 1285.1,1428.0 1286.6,1428.0 1288.1,1428.0 1289.6,1428.0 1291.1,1428.0 1292.7,1428.0 1294.2,1428.0 1295.7,1428.0 1297.2,1428.0 1298.7,1428.0 1300.2,1428.0 1301.7,1428.0 1303.2,1428.0 1304.7,1428.0 1306.2,1428.0 1307.7,1428.0 1309.2,1428.0 1310.7,1428.0 1312.2,1428.0 1313.7,1428.0 1315.2,1428.0 1316.7,1428.0 1318.2,1428.0 1319.7,1428.0 1321.2,1428.0 1322.7,1428.0 1324.2,1428.0 1325.7,1428.0 1327.2,1428.0 1328.7,1428.0 1330.2,1428.0 1331.7,1428.0 1333.2,1428.0 1334.7,1428.0 1336.2,1428.0 1337.7,1428.0 1339.2,1428.0 1340.7,1428.0 1342.2,1428.0 1343.7,1428.0 1345.2,1428.0 1346.7,1428.0 1348.2,1428.0 1349.7,1428.0 1351.2,1428.0 1352.7,1428.0 1354.2,1428.0 1355.7,1428.0 1357.2,1428.0 1358.7,1428.0 1360.2,1428.0 1361.7,1428.0 1363.2,1428.0 1364.7,1428.0 1366.2,1428.0 1367.7,1428.0 1369.3,1428.0 1370.8,1428.0 1372.3,1428.0 1373.8,1428.0 1375.3,1428.0 1376.8,1428.0 1378.3,1428.0 1379.8,1428.0 1381.3,1428.0 1382.8,1428.0 1384.3,1428.0 1385.8,1428.0 1387.3,1428.0 1388.8,1428.0 1390.3,1428.0 1391.8,1428.0 1393.3,1428.0 1394.8,1428.0 1396.3,1428.0 1397.8,1428.0 1399.3,1428.0 1400.8,1428.0 1402.3,1428.0 1403.8,1428.0 1405.3,1428.0 1406.8,1428.0 1408.3,1428.0 1409.8,1428.0 1411.3,1428.0 1412.8,1428.0 1414.3,1428.0 1415.8,1428.0 1417.3,1428.0 1418.8,1428.0 1420.3,1428.0 1421.8,1428.0 1423.3,1428.0 1424.8,1428.0 1426.3,1428.0 1427.8,1428.0 1429.3,1428.0 1430.8,1428.0 1432.3,1428.0 1433.8,1428.0 1435.3,1428.0 1436.8,1428.0 1438.3,1428.0 1439.8,1428.0 1441.3,1428.0 1442.8,1428.0 1444.3,1428.0 1445.9,1428.0 1447.4,1428.0 1448.9,1428.0 1450.4,1428.0 1451.9,1428.0 1453.4,1428.0 1454.9,1428.0 1456.4,1428.0 1457.9,1428.0 1459.4,1428.0 1460.9,1428.0 1462.4,1428.0 1463.9,1428.0 1465.4,1428.0 1466.9,1428.0 1468.4,1428.0 1469.9,1428.0 1471.4,1428.0 1472.9,1428.0 1474.4,1428.0 1475.9,1428.0 1477.4,1428.0 1478.9,1428.0 1480.4,1428.0 1481.9,1428.0 1483.4,1428.0 1484.9,1428.0 1486.4,1428.0 1487.9,1428.0 1489.4,1428.0 1490.9,1428.0 1492.4,1428.0 1493.9,1428.0 1495.4,1428.0 1496.9,1428.0 1498.4,1428.0 1499.9,1428.0 1501.4,1428.0 1502.9,1428.0 1504.4,1428.0 1505.9,1428.0 1507.4,1428.0 1508.9,1428.0 1510.4,1428.0 1511.9,1428.0 1513.4,1428.0 1514.9,1428.0 1516.4,1428.0 1517.9,1428.0 1519.4,1428.0 1520.9,1428.0 1522.5,1428.0 1524.0,1428.0 1525.5,1428.0 1527.0,1428.0 1528.5,1428.0 1530.0,1428.0 1531.5,1428.0 1533.0,1428.0 1534.5,1428.0 1536.0,1428.0 1537.5,1428.0 1539.0,1428.0 1540.5,1428.0 1542.0,1428.0 1543.5,1428.0 1545.0,1428.0 1546.5,1428.0 1548.0,1428.0 1549.5,1428.0 1551.0,1428.0 1552.5,1428.0 1554.0,1428.0 1555.5,1428.0 1557.0,1428.0 1558.5,1428.0 1560.0,1428.0 1562.0,1427.0 1563.5,1427.0 1565.0,1427.0 1566.5,1427.0 1568.0,1427.0 1569.5,1427.0 1571.0,1427.0 1572.5,1427.0 1574.0,1427.0 1575.5,1427.0 1577.0,1427.0 1578.5,1427.0 1580.0,1427.0 1581.5,1427.0 1583.0,1427.0 1584.5,1427.0 1586.0,1427.0 1587.5,1427.0 1589.0,1427.0 1590.5,1427.0 1592.0,1427.0 1593.5,1427.0 1595.0,1427.0 1596.5,1427.0 1598.0,1427.0 1599.5,1427.0 1601.0,1427.0 1602.5,1427.0 1604.0,1427.0 1605.5,1427.0 1607.0,1427.0 1608.5,1427.0 1610.0,1427.0 1611.5,1427.0 1613.0,1427.0 1614.5,1427.0 1616.0,1427.0 1617.5,1427.0 1619.0,1427.0 1620.5,1427.0 1622.0,1427.0 1623.5,1427.0 1625.0,1427.0 1626.5,1427.0 1628.0,1427.0 1629.5,1427.0 1631.0,1427.0 1632.5,1427.0 1634.0,1427.0 1635.5,1427.0 1637.0,1427.0 1638.5,1427.0 1640.0,1427.0 1641.5,1427.0 1643.0,1427.0 1644.5,1427.0 1646.0,1427.0 1647.5,1427.0 1649.0,1427.0 1650.5,1427.0 1652.0,1427.0 1653.5,1427.0 1655.0,1427.0 1656.5,1427.0 1658.0,1427.0 1659.5,1427.0 1661.0,1427.0 1662.5,1427.0 1664.0,1427.0 1666.0,1423.4 1667.5,1423.4 1669.0,1423.4 1670.5,1423.4 1672.0,1423.4 1673.5,1423.4 1675.0,1423.4 1676.5,1423.4 1678.0,1423.4 1679.5,1423.4 1681.0,1423.4 1682.5,1423.4 1684.0,1423.4 1685.6,1423.4 1687.1,1423.4 1688.6,1423.4 1690.1,1423.4 1691.6,1423.4 1693.1,1423.4 1694.6,1423.4 1696.1,1423.4 1697.6,1423.4 1699.1,1423.4 1700.6,1423.4 1702.1,1423.4 1703.6,1423.4 1705.1,1423.4 1706.6,1423.4 1708.1,1423.4 1709.6,1423.4 1711.1,1423.4 1712.6,1423.4 1714.1,1423.4 1715.6,1423.4 1717.1,1423.4 1718.6,1423.4 1720.1,1423.4 1721.7,1423.4 1723.2,1423.4 1724.7,1423.4 1726.2,1423.4 1727.7,1423.4 1729.2,1423.4 1730.7,1423.4 1732.2,1423.4 1733.7,1423.4 1735.2,1423.4 1736.7,1423.4 1738.2,1423.4 1739.7,1423.4 1741.2,1423.4 1742.7,1423.4 1744.2,1423.4 1745.7,1423.4 1747.2,1423.4 1748.7,1423.4 1750.2,1423.4 1751.7,1423.4 1753.2,1423.4 1754.7,1423.4 1756.2,1423.4 1757.7,1423.4 1759.3,1423.4 1760.8,1423.4 1762.3,1423.4 1763.8,1423.4 1765.3,1423.4 1766.8,1423.4 1768.3,1423.4 1769.8,1423.4 1771.3,1423.4 1772.8,1423.4 1774.3,1423.4 1775.8,1423.4 1777.3,1423.4 1778.8,1423.4 1780.3,1423.4 1781.8,1423.4 1783.3,1423.4 1784.8,1423.4 1786.3,1423.4 1787.8,1423.4 1789.3,1423.4 1790.8,1423.4 1792.3,1423.4 1793.8,1423.4 1795.3,1423.4 1796.9,1423.4 1798.4,1423.4 1799.9,1423.4 1801.4,1423.4 1802.9,1423.4 1804.4,1423.4 1805.9,1423.4 1807.4,1423.4 1808.9,1423.4 1810.4,1423.4 1811.9,1423.4 1813.4,1423.4 1814.9,1423.4 1816.4,1423.4 1817.9,1423.4 1819.4,1423.4 1820.9,1423.4 1822.4,1423.4 1823.9,1423.4 1825.4,1423.4 1826.9,1423.4 1828.4,1423.4 1829.9,1423.4 1831.4,1423.4 1833.0,1423.4 1834.5,1423.4 1836.0,1423.4 1837.5,1423.4 1839.0,1423.4 1840.5,1423.4 1842.0,1423.4 1843.5,1423.4 1845.0,1423.4 1846.5,1423.4 1848.0,1423.4 1849.5,1423.4 1851.0,1423.4 1853.0,1419.0 1854.5,1419.0 1856.0,1419.0 1857.5,1419.0 1859.0,1419.0 1860.5,1419.0 1862.0,1419.0 1863.5,1419.0 1865.0,1419.0 1866.4,1419.0 1867.9,1419.0 1869.4,1419.0 1870.9,1419.0 1872.4,1419.0 1873.9,1419.0 1875.4,1419.0 1876.9,1419.0 1878.4,1419.0 1879.9,1419.0 1881.4,1419.0 1882.9,1419.0 1884.4,1419.0 1885.9,1419.0 1887.4,1419.0 1888.9,1419.0 1890.4,1419.0 1891.8,1419.0 1893.3,1419.0 1894.8,1419.0 1896.3,1419.0 1897.8,1419.0 1899.3,1419.0 1900.8,1419.0 1902.3,1419.0 1903.8,1419.0 1905.3,1419.0 1906.8,1419.0 1908.3,1419.0 1909.8,1419.0 1911.3,1419.0 1912.8,1419.0 1914.3,1419.0 1915.8,1419.0 1917.2,1419.0 1918.7,1419.0 1920.2,1419.0 1921.7,1419.0 1923.2,1419.0 1924.7,1419.0 1926.2,1419.0 1927.7,1419.0 1929.2,1419.0 1930.7,1419.0 1932.2,1419.0 1933.7,1419.0 1935.2,1419.0 1936.7,1419.0 1938.2,1419.0 1939.7,1419.0 1941.2,1419.0 1942.6,1419.0 1944.1,1419.0 1945.6,1419.0 1947.1,1419.0 1948.6,1419.0 1950.1,1419.0 1951.6,1419.0 1953.1,1419.0 1954.6,1419.0 1956.1,1419.0 1957.6,1419.0 1959.1,1419.0 1960.6,1419.0 1962.1,1419.0 1963.6,1419.0 1965.1,1419.0 1966.6,1419.0 1968.0,1419.0 1969.5,1419.0 1971.0,1419.0 1972.5,1419.0 1974.0,1419.0 1975.5,1419.0 1977.0,1419.0 1978.5,1419.0 1980.0,1419.0 1981.5,1417.0 1983.0,1415.0 1984.5,1415.0 1986.0,1415.0 1987.5,1415.0 1989.0,1415.0 1990.5,1415.0 1992.0,1415.0 1993.5,1415.0 1995.0,1415.0 1996.5,1415.0 1998.0,1415.0 1999.5,1415.0 2001.0,1415.0 2002.5,1415.0 2004.0,1415.0 2005.5,1415.0 2006.9,1415.0 2008.4,1415.0 2009.9,1415.0 2011.4,1415.0 2012.9,1415.0 2014.4,1415.0 2015.9,1415.0 2017.4,1415.0 2018.9,1415.0 2020.4,1415.0 2021.9,1415.0 2023.4,1415.0 2024.9,1415.0 2026.4,1415.0 2027.9,1415.0 2029.4,1415.0 2030.9,1415.0 2032.4,1415.0 2033.9,1415.0 2035.4,1415.0 2036.9,1415.0 2038.4,1415.0 2039.9,1415.0 2041.4,1415.0 2042.9,1415.0 2044.4,1415.0 2045.9,1415.0 2047.4,1415.0 2048.9,1415.0 2050.4,1415.0 2051.9,1415.0 2053.4,1415.0 2054.8,1415.0 2056.3,1415.0 2057.8,1415.0 2059.3,1415.0 2060.8,1415.0 2062.3,1415.0 2063.8,1415.0 2065.3,1415.0 2066.8,1415.0 2068.3,1415.0 2069.8,1415.0 2071.3,1415.0 2072.8,1415.0 2074.3,1415.0 2075.8,1415.0 2077.3,1415.0 2078.8,1415.0 2080.3,1415.0 2081.8,1415.0 2083.3,1415.0 2084.8,1415.0 2086.3,1415.0 2087.8,1415.0 2089.3,1415.0 2090.8,1415.0 2092.3,1415.0 2093.8,1415.0 2095.3,1415.0 2096.8,1415.0 2098.3,1415.0 2099.8,1415.0 2101.2,1415.0 2102.7,1415.0 2104.2,1415.0 2105.7,1415.0 2107.2,1415.0 2108.7,1415.0 2110.2,1415.0 2111.7,1415.0 2113.2,1415.0 2114.7,1415.0 2116.2,1415.0 2117.7,1415.0 2119.2,1415.0 2120.7,1415.0 2122.2,1415.0 2123.7,1415.0 2125.2,1415.0 2126.7,1415.0 2128.2,1415.0 2129.7,1415.0 2131.2,1415.0 2132.7,1415.0 2134.2,1415.0 2135.7,1415.0 2137.2,1415.0 2138.7,1415.0 2140.2,1415.0 2141.7,1415.0 2143.2,1415.0 2144.7,1415.0 2146.2,1415.0 2147.6,1415.0 2149.1,1415.0 2150.6,1415.0 2152.1,1415.0 2153.6,1415.0 2155.1,1415.0 2156.6,1415.0 2158.1,1415.0 2159.6,1415.0 2161.1,1415.0 2162.6,1415.0 2164.1,1415.0 2165.6,1415.0 2167.1,1415.0 2168.6,1415.0 2170.1,1415.0 2171.6,1415.0 2173.1,1415.0 2174.6,1415.0 2176.1,1415.0 2177.6,1415.0 2179.1,1415.0 2180.6,1415.0 2182.1,1415.0 2183.6,1415.0 2185.1,1415.0 2186.6,1415.0 2188.1,1415.0 2189.6,1415.0 2191.1,1415.0 2192.6,1415.0 2194.1,1415.0 2195.5,1415.0 2197.0,1415.0 2198.5,1415.0 2200.0,1415.0 2201.5,1415.0 2203.0,1415.0 2204.5,1415.0 2206.0,1415.0 2207.5,1415.0 2209.0,1415.0 2210.5,1415.0 2212.0,1415.0 2213.5,1415.0 2215.0,1415.0 2216.5,1415.0 2218.0,1415.0 2219.3,1413.7 2220.7,1412.3 2222.0,1411.0 2223.4,1411.6 2224.9,1412.1 2226.3,1412.7 2227.8,1413.2 2229.2,1413.8 2230.7,1414.3 2232.1,1414.9 2233.6,1415.4 2235.0,1416.0 2236.5,1415.4 2238.0,1414.8 2239.5,1414.1 2241.0,1413.5 2242.5,1412.9 2244.0,1412.2 2245.5,1411.6 2247.0,1411.0 2248.5,1411.1 2250.0,1411.2 2251.5,1411.4 2253.0,1411.5 2254.5,1411.6 2256.0,1411.8 2257.5,1411.9 2259.0,1412.0 2260.5,1412.5 2262.0,1413.0 2263.5,1413.5 2265.0,1414.0 2266.5,1414.5 2268.0,1415.0 2269.5,1415.5 2271.0,1416.0 2272.7,1416.0 2274.3,1416.0 2276.0,1416.0" stroke="#009696" stroke-width="3.9"/>
<path d="M404.0,118.6 404.0,154.5 404.8,154.8 405.5,155.0 406.3,155.2 407.1,155.5 407.8,155.8 408.6,156.0 408.6,281.0 409.4,294.6 410.2,281.3 411.0,285.5 411.8,291.9 412.5,300.0 413.2,323.7 414.0,316.7 414.8,316.5 415.6,295.1 416.4,335.1 417.2,320.0 418.0,288.3 418.8,275.7 419.5,293.8 420.2,294.3 421.0,315.5 421.8,277.2 422.7,293.9 423.5,294.1 424.3,294.8 425.2,283.5 426.0,280.0 426.8,302.7 427.5,262.1 428.2,235.8 429.0,247.1 429.8,260.0 430.5,259.6 431.2,242.2 432.0,227.9 432.8,223.0 433.6,234.7 434.4,233.4 435.2,219.5 436.0,226.6 436.8,232.6 437.6,210.2 438.4,215.5 439.2,202.9 440.0,217.8 440.8,219.8 441.5,217.0 442.2,225.7 443.0,238.6 443.8,215.9 444.6,246.9 445.4,226.0 446.2,259.1 447.0,260.1 447.8,250.6 448.6,227.7 449.4,253.2 450.2,240.9 451.0,243.7 451.8,222.6 452.6,234.4 453.4,206.5 454.2,236.3 455.0,209.3 456.0,211.3 457.0,208.9 458.0,174.0 459.0,210.1 459.8,204.8 460.5,236.9 461.2,240.1 462.0,241.6 462.8,201.7 463.6,249.0 464.4,257.0 465.2,245.4 466.0,251.8 466.8,254.5 467.6,247.8 468.4,253.4 469.2,251.5 470.0,254.3 470.8,249.2 471.6,253.8 472.4,249.8 473.2,245.3 474.0,237.2 474.8,243.7 475.7,239.9 476.5,253.2 477.3,238.0 478.2,244.4 479.0,250.2 479.8,252.4 480.5,254.0 481.2,253.1 482.0,275.2 482.8,292.0 483.7,262.2 484.5,283.3 485.3,270.9 486.2,288.9 487.0,294.0 487.8,288.5 488.5,282.5 489.2,294.9 490.0,286.1 490.8,284.0 491.5,284.8 492.2,294.2 493.0,296.8 493.8,278.7 494.6,281.1 495.4,283.2 496.2,288.7 497.0,300.2 497.8,291.8 498.5,269.8 499.2,274.7 500.0,295.2 500.8,299.7 501.5,269.0 502.2,266.3 503.0,279.5 503.8,267.4 504.6,286.7 505.3,296.9 506.1,312.2 506.9,282.3 507.7,279.6 508.4,285.5 509.2,278.8 510.0,283.4 510.8,294.8 511.5,306.0 512.2,306.4 513.0,283.8 513.8,312.8 514.5,295.5 515.2,316.5 516.0,301.9 516.8,316.5 517.7,307.0 518.5,295.7 519.3,321.0 520.2,316.9 521.0,319.9 521.8,329.4 522.5,320.8 523.2,322.8 524.0,306.2 524.8,304.6 525.5,319.4 526.2,293.4 527.0,299.1 527.8,305.0 528.5,323.0 529.2,297.8 530.0,319.0 530.8,321.7 531.5,318.3 532.2,307.3 533.0,315.5 533.8,319.4 534.6,315.4 535.3,318.6 536.1,312.3 536.9,325.0 537.7,321.1 538.4,317.7 539.2,312.7 540.0,316.6 540.8,311.1 541.5,318.3 542.2,320.6 543.0,316.9 543.8,312.3 544.5,316.3 545.2,323.7 546.0,316.8 546.8,311.8 547.7,318.9 548.5,305.1 549.3,306.6 550.2,295.4 551.0,289.9 551.8,291.6 552.7,296.1 553.5,302.8 554.3,303.1 555.2,295.7 556.0,287.3 556.8,297.3 557.6,297.6 558.4,294.2 559.2,303.1 560.0,303.3 560.8,306.3 561.5,301.0 562.2,310.2 563.0,302.9 563.8,315.1 564.5,319.4 565.2,310.3 566.0,323.9 566.8,310.3 567.7,319.4 568.5,314.6 569.3,324.2 570.2,311.6 571.0,328.0 571.8,314.8 572.5,326.4 573.2,324.4 574.0,310.0 574.8,305.1 575.6,313.6 576.4,304.3 577.2,301.0 578.0,316.8 578.8,301.1 579.7,314.7 580.5,311.6 581.3,305.4 582.2,305.7 583.0,298.5 583.8,315.5 584.7,305.4 585.5,306.0 586.3,299.7 587.2,297.8 588.0,312.3 588.8,313.3 589.7,305.5 590.5,306.7 591.3,312.9 592.2,312.0 593.0,310.7 593.8,305.5 594.6,313.8 595.4,311.5 596.2,305.8 597.0,300.2 597.8,305.7 598.6,302.7 599.4,308.8 600.2,312.8 601.0,307.1 601.8,310.4 602.6,308.1 603.4,312.5 604.2,313.7 605.0,305.7 605.8,309.6 606.6,298.7 607.4,288.6 608.2,282.2 609.0,292.8 609.8,286.3 610.7,290.5 611.5,293.5 612.3,282.1 613.2,294.5 614.0,294.3 614.8,283.9 615.7,283.8 616.5,277.2 617.3,287.4 618.2,290.1 619.0,282.5 619.8,291.8 620.6,296.6 621.4,279.5 622.2,280.7 623.0,303.4 623.8,310.3 624.5,289.5 625.2,320.8 626.0,315.1 626.9,307.3 627.8,309.8 628.6,322.7 629.5,320.4 630.4,321.7 631.2,308.8 632.1,309.6 633.0,295.3 633.8,297.1 634.6,307.5 635.4,299.2 636.2,302.8 637.0,306.3 637.8,313.2 638.6,296.4 639.4,302.0 640.2,296.0 641.0,286.2 641.8,290.8 642.6,290.9 643.4,283.5 644.2,293.3 645.0,292.7 645.8,277.0 646.5,282.7 647.2,279.1 648.0,279.2 648.8,290.2 649.6,293.8 650.4,294.4 651.2,294.6 652.0,307.6 652.8,294.2 653.5,304.5 654.2,298.8 655.0,298.5 655.8,299.1 656.6,305.6 657.4,295.4 658.2,298.6 659.0,288.6 659.8,294.1 660.7,284.6 661.5,291.5 662.3,291.1 663.2,290.1 664.0,296.5 664.8,291.0 665.6,297.3 666.4,290.0 667.2,296.9 668.0,289.5 668.8,297.1 669.6,307.5 670.4,299.6 671.2,296.7 672.0,295.9 672.8,313.4 673.6,292.4 674.4,290.9 675.2,290.7 676.0,293.0 676.8,295.6 677.6,298.1 678.4,299.4 679.2,290.8 680.0,292.3 680.8,294.9 681.7,300.3 682.5,286.9 683.3,302.9 684.2,282.2 685.0,304.3 685.8,294.8 686.7,296.4 687.5,287.1 688.3,298.1 689.2,299.4 690.0,288.9 690.8,296.7 691.6,288.7 692.4,289.2 693.2,280.9 694.0,282.0 694.8,284.4 695.5,285.5 696.2,281.3 697.0,280.4 697.8,275.2 698.5,268.3 699.2,283.8 700.0,267.2 700.8,270.1 701.6,279.0 702.4,266.3 703.2,271.5 704.0,266.6 704.8,266.2 705.6,273.5 706.4,252.4 707.2,250.9 708.0,259.5 708.8,250.2 709.7,250.1 710.5,260.7 711.3,256.2 712.2,258.1 713.0,266.0 713.8,256.6 714.7,271.0 715.5,252.9 716.3,267.4 717.2,257.6 718.0,260.9 718.8,270.5 719.6,254.1 720.3,256.3 721.1,264.8 721.9,262.8 722.7,249.6 723.4,252.0 724.2,261.7 725.0,273.4 725.8,260.1 726.6,263.8 727.3,263.1 728.1,267.7 728.9,251.7 729.7,250.4 730.4,259.1 731.2,265.0 732.0,259.1 732.8,261.8 733.5,254.8 734.2,257.5 735.0,263.1 735.8,267.0 736.5,253.7 737.2,251.7 738.0,263.1 738.8,262.5 739.7,253.9 740.5,269.2 741.3,264.9 742.2,254.4 743.0,253.8 743.8,259.1 744.7,267.2 745.5,253.5 746.3,255.5 747.2,258.8 748.0,254.4 748.8,259.7 749.5,251.6 750.2,255.5 751.0,261.1 751.8,257.3 752.5,253.9 753.2,251.2 754.0,261.9 754.8,252.1 755.6,256.4 756.4,240.2 757.2,231.2 758.0,226.2 758.8,238.9 759.6,239.1 760.4,239.9 761.2,216.4 762.0,201.0 762.8,218.9 763.6,224.5 764.4,218.6 765.2,206.4 766.0,213.6 766.8,205.5 767.6,217.2 768.4,215.9 769.2,216.8 770.0,215.0 770.8,212.4 771.6,215.5 772.4,215.6 773.2,224.1 774.0,223.9 774.8,213.2 775.6,217.2 776.4,237.0 777.2,248.8 778.0,242.0 778.8,254.4 779.7,251.6 780.5,244.7 781.3,237.8 782.2,261.7 783.0,251.7 783.8,254.1 784.6,255.8 785.4,248.4 786.2,244.6 787.0,244.2 787.8,243.9 788.6,263.5 789.4,251.6 790.2,260.9 791.0,257.1 791.8,242.8 792.6,245.5 793.4,237.8 794.2,230.5 795.0,229.0 795.8,230.2 796.6,223.0 797.4,225.1 798.2,237.3 799.0,229.6 799.8,234.4 800.6,235.2 801.4,238.4 802.2,234.9 803.0,219.1 803.8,232.0 804.7,220.7 805.5,230.1 806.3,204.7 807.2,230.5 808.0,223.0 808.8,216.4 809.6,209.8 810.4,217.2 811.2,217.4 812.0,223.6 812.8,217.5 813.6,226.7 814.4,218.3 815.2,265.7 816.0,269.4 816.8,265.1 817.6,259.8 818.4,270.0 819.2,261.7 820.0,249.5 820.8,232.9 821.6,240.0 822.4,226.6 823.2,264.1 824.0,239.0 824.8,225.2 825.5,250.5 826.2,233.7 827.0,251.2 827.8,226.9 828.7,246.4 829.5,228.5 830.3,234.7 831.2,227.0 832.0,253.8 832.8,241.9 833.6,249.5 834.4,232.9 835.2,245.1 836.0,261.4 836.8,248.4 837.7,262.8 838.5,246.1 839.3,248.5 840.2,248.1 841.0,246.9 841.8,264.0 842.6,265.9 843.4,272.3 844.2,267.1 845.0,285.6 845.8,284.8 846.5,294.0 847.2,286.6 848.0,279.4 848.8,289.6 849.5,302.8 850.2,293.2 851.0,298.9 851.8,305.3 852.6,312.6 853.3,301.1 854.1,315.5 854.9,319.5 855.7,307.2 856.4,317.8 857.2,318.7 858.0,319.4 858.8,328.1 859.7,326.0 860.5,324.3 861.3,327.2 862.2,330.7 863.0,343.2 863.8,349.4 864.6,344.0 865.3,348.5 866.1,338.7 866.9,362.8 867.7,372.4 868.4,350.4 869.2,362.1 870.0,366.2 870.8,378.9 871.6,380.9 872.4,372.6 873.2,367.1 874.0,366.3 874.8,364.5 875.6,374.8 876.4,376.0 877.2,380.9 878.0,366.2 878.8,380.2 879.5,389.5 880.2,381.0 881.0,380.5 881.8,383.9 882.5,399.8 883.2,393.6 884.0,404.9 884.8,404.6 885.7,416.2 886.5,429.4 887.3,432.5 888.2,471.2 889.0,479.5 889.8,464.5 890.5,473.2 891.2,505.5 892.0,490.1 892.8,511.8 893.5,505.7 894.2,504.5 895.0,529.6 895.8,533.8 896.6,535.8 897.3,547.0 898.1,547.5 898.9,538.7 899.7,546.5 900.4,542.2 901.2,552.1 902.0,556.3 902.8,568.7 903.7,562.9 904.5,560.2 905.3,571.5 906.2,562.3 907.0,569.8 907.8,595.2 908.6,584.6 909.3,585.7 910.1,600.0 910.9,614.7 911.7,604.2 912.4,614.8 913.2,627.8 914.0,630.5 914.8,629.9 915.7,645.3 916.5,655.0 917.3,667.5 918.2,683.8 919.0,694.5 919.8,703.5 920.6,714.2 921.4,718.2 922.2,729.0 923.0,734.8 923.8,744.1 924.6,753.7 925.4,760.7 926.2,773.3 927.0,784.5 927.8,787.5 928.6,796.7 929.4,799.6 930.2,806.9 931.0,808.0 931.8,816.0 932.6,826.5 933.4,834.6 934.2,844.3 935.0,851.1 935.8,861.8 936.7,871.2 937.5,876.0 938.3,886.8 939.2,896.1 940.0,905.2 940.8,907.6 941.6,915.0 942.3,919.5 943.1,925.2 943.9,931.6 944.7,934.4 945.4,939.8 946.2,950.6 947.0,956.6 947.8,957.4 948.6,969.9 949.5,968.7 950.3,978.0 951.1,980.1 951.9,980.8 952.7,990.1 953.5,990.1 954.4,990.7 955.2,999.3 956.0,1001.1 956.8,1007.5 957.5,1013.7 958.2,1021.7 959.0,1030.9 959.8,1034.1 960.5,1047.4 961.2,1054.6 962.0,1064.8 962.8,1064.5 963.6,1075.1 964.4,1076.9 965.2,1082.2 966.0,1089.7 966.8,1090.4 967.6,1094.7 968.4,1097.3 969.2,1104.7 970.0,1107.1 970.8,1109.9 971.6,1113.2 972.3,1113.9 973.1,1124.0 973.9,1124.3 974.7,1130.4 975.4,1138.4 976.2,1132.3 977.0,1141.4 977.8,1144.3 978.6,1145.6 979.5,1150.0 980.3,1157.9 981.1,1163.0 981.9,1159.8 982.7,1165.9 983.5,1171.7 984.4,1167.0 985.2,1169.0 986.0,1168.3 986.8,1183.3 987.5,1179.1 988.2,1185.5 989.0,1188.4 989.8,1196.6 990.5,1196.5 991.2,1194.7 992.0,1202.7 992.8,1203.7 993.5,1204.9 994.2,1213.5 995.0,1214.8 995.8,1226.6 996.5,1223.4 997.2,1233.4 998.0,1233.5 998.8,1237.1 999.6,1233.4 1000.4,1232.7 1001.2,1237.9 1002.0,1237.7 1002.8,1239.1 1003.6,1242.1 1004.4,1244.8 1005.2,1247.1 1006.0,1248.0 1006.8,1248.2 1007.6,1250.7 1008.4,1251.0 1009.2,1254.8 1010.0,1255.3 1010.8,1255.1 1011.6,1256.5 1012.4,1257.7 1013.2,1259.3 1014.0,1261.2 1014.8,1264.6 1015.6,1266.7 1016.4,1267.6 1017.2,1269.8 1018.0,1272.2 1018.8,1277.3 1019.7,1279.4 1020.5,1281.0 1021.3,1283.9 1022.2,1289.2 1023.0,1292.0 1023.8,1294.4 1024.7,1296.8 1025.5,1297.3 1026.3,1300.7 1027.2,1302.4 1028.0,1304.1 1028.8,1306.0 1029.5,1307.7 1030.2,1310.7 1031.0,1311.4 1031.8,1311.7 1032.5,1313.7 1033.2,1314.8 1034.0,1316.2 1034.8,1319.6 1035.6,1320.7 1036.4,1322.3 1037.2,1325.3 1038.0,1327.5 1038.8,1326.9 1039.7,1329.0 1040.5,1328.4 1041.3,1327.8 1042.2,1328.2 1043.0,1328.2 1043.8,1326.1 1044.7,1325.6 1045.5,1326.9 1046.3,1326.1 1047.2,1325.6 1048.0,1325.2 1048.8,1329.0 1049.5,1331.6 1050.2,1336.9 1051.0,1339.3 1051.8,1342.1 1052.5,1345.6 1053.2,1347.8 1054.0,1350.9 1054.8,1348.2 1055.6,1347.5 1056.3,1343.9 1057.1,1343.4 1057.9,1342.0 1058.7,1339.0 1059.4,1339.6 1060.2,1335.6 1061.0,1335.9 1061.8,1336.7 1062.6,1338.1 1063.4,1337.2 1064.2,1340.3 1065.0,1342.6 1065.8,1342.9 1066.6,1343.1 1067.4,1346.5 1068.2,1347.7 1069.0,1348.1 1069.8,1349.2 1070.6,1352.1 1071.5,1353.2 1072.3,1355.3 1073.1,1357.9 1073.9,1360.0 1074.7,1362.2 1075.5,1361.8 1076.4,1363.1 1077.2,1365.3 1078.0,1369.2 1078.8,1364.4 1079.7,1364.2 1080.5,1362.3 1081.3,1359.8 1082.2,1356.3 1083.0,1354.8 1083.8,1354.7 1084.6,1353.1 1085.4,1354.4 1086.2,1354.9 1087.0,1356.7 1087.8,1355.0 1088.6,1356.7 1089.4,1355.7 1090.2,1358.2 1091.0,1357.0 1091.8,1359.4 1092.6,1358.8 1093.4,1359.0 1094.2,1359.7 1095.0,1360.8 1095.8,1360.2 1096.6,1362.4 1097.5,1362.1 1098.3,1362.1 1099.1,1363.6 1099.9,1364.0 1100.7,1363.6 1101.5,1364.4 1102.4,1365.6 1103.2,1364.2 1104.0,1365.3 1104.8,1366.7 1105.7,1365.1 1106.5,1363.2 1107.3,1362.1 1108.2,1362.2 1109.0,1361.6 1109.8,1362.8 1110.7,1361.1 1111.5,1361.0 1112.3,1358.4 1113.2,1359.0 1114.0,1357.5 1114.8,1361.2 1115.6,1361.1 1116.5,1361.8 1117.3,1363.1 1118.1,1365.7 1118.9,1368.7 1119.7,1368.5 1120.5,1370.7 1121.4,1373.1 1122.2,1372.3 1123.0,1374.3 1123.8,1374.2 1124.5,1371.2 1125.2,1370.1 1126.0,1368.6 1126.8,1369.2 1127.5,1368.7 1128.2,1367.8 1129.0,1367.0 1129.8,1367.2 1130.6,1369.7 1131.5,1372.0 1132.3,1371.3 1133.1,1373.7 1133.9,1375.8 1134.7,1376.5 1135.5,1378.1 1136.4,1378.0 1137.2,1380.5 1138.0,1382.3 1138.8,1381.1 1139.7,1381.8 1140.5,1381.5 1141.3,1380.3 1142.2,1380.3 1143.0,1381.2 1143.8,1380.7 1144.7,1381.6 1145.5,1377.8 1146.3,1379.6 1147.2,1379.2 1148.0,1377.8 1148.8,1376.2 1149.6,1379.0 1150.4,1379.0 1151.2,1377.3 1152.0,1376.6 1152.8,1378.7 1153.6,1377.5 1154.4,1379.1 1155.2,1378.6 1156.0,1379.5 1156.8,1377.4 1157.6,1377.4 1158.4,1377.8 1159.2,1377.5 1160.0,1377.8 1160.8,1379.4 1161.6,1378.9 1162.3,1379.6 1163.1,1379.2 1163.9,1380.7 1164.7,1381.3 1165.4,1383.2 1166.2,1383.1 1167.0,1383.2 1167.8,1386.9 1168.6,1386.2 1169.3,1385.9 1170.1,1387.7 1170.9,1388.0 1171.7,1389.6 1172.4,1387.8 1173.2,1389.1 1174.0,1390.8 1174.8,1390.6 1175.6,1390.6 1176.5,1390.8 1177.3,1388.7 1178.1,1389.6 1178.9,1388.9 1179.7,1388.4 1180.5,1387.2 1181.4,1388.1 1182.2,1384.9 1183.0,1387.2 1183.8,1384.8 1184.6,1386.3 1185.4,1388.3 1186.2,1385.7 1187.0,1387.0 1187.8,1386.9 1188.6,1386.9 1189.4,1386.3 1190.2,1385.9 1191.0,1388.1 1191.8,1387.6 1192.6,1386.0 1193.4,1388.8 1194.2,1389.1 1195.0,1387.4 1195.8,1388.1 1196.6,1387.0 1197.5,1383.6 1198.3,1383.8 1199.1,1384.9 1199.9,1383.2 1200.7,1382.4 1201.5,1381.1 1202.4,1379.6 1203.2,1377.9 1204.0,1377.0 1204.8,1379.2 1205.6,1380.6 1206.4,1381.7 1207.2,1383.3 1208.0,1384.5 1208.8,1385.4 1209.6,1387.8 1210.4,1387.7 1211.2,1390.4 1212.0,1391.4 1212.8,1391.3 1213.6,1392.7 1214.4,1391.5 1215.1,1390.7 1215.9,1390.6 1216.7,1392.7 1217.5,1392.0 1218.3,1391.9 1219.1,1390.6 1219.9,1393.2 1220.6,1391.3 1221.4,1391.8 1222.2,1392.5 1223.0,1391.4 1223.8,1393.1 1224.6,1394.6 1225.4,1392.8 1226.1,1394.2 1226.9,1394.3 1227.7,1392.6 1228.5,1391.6 1229.3,1392.6 1230.1,1392.5 1230.9,1393.1 1231.6,1392.6 1232.4,1393.4 1233.2,1392.9 1234.0,1395.5 1234.8,1394.4 1235.6,1394.5 1236.4,1395.7 1237.2,1393.6 1237.9,1395.2 1238.7,1394.7 1239.5,1393.5 1240.3,1394.4 1241.1,1394.3 1241.9,1393.7 1242.7,1395.3 1243.5,1395.0 1244.3,1392.6 1245.1,1393.0 1245.8,1393.0 1246.6,1393.9 1247.4,1393.2 1248.2,1393.1 1249.0,1394.0 1249.8,1393.8 1250.6,1393.2 1251.4,1389.6 1252.2,1388.7 1253.0,1388.1 1253.8,1386.5 1254.6,1386.2 1255.4,1383.9 1256.2,1384.3 1257.0,1383.6 1257.8,1384.5 1258.6,1387.9 1259.3,1391.5 1260.1,1393.8 1260.9,1396.1 1261.7,1396.2 1262.4,1399.2 1263.2,1401.2 1264.0,1402.1 1264.8,1404.7 1265.6,1401.5 1266.4,1404.6 1267.2,1401.2 1268.0,1403.7 1268.8,1403.3 1269.6,1404.3 1270.4,1401.3 1271.2,1404.6 1272.0,1403.1 1272.8,1402.5 1273.6,1403.5 1274.4,1402.9 1275.2,1402.3 1276.0,1402.9 1276.8,1404.0 1277.6,1401.5 1278.4,1402.5 1279.2,1402.5 1280.0,1403.3 1280.8,1402.5 1281.6,1403.2 1282.4,1400.8 1283.2,1400.9 1284.0,1402.1 1284.8,1401.6 1285.5,1401.6 1286.3,1399.4 1287.1,1401.7 1287.9,1399.4 1288.7,1401.6 1289.5,1398.4 1290.3,1400.4 1291.1,1399.8 1291.9,1397.8 1292.7,1399.1 1293.5,1399.1 1294.2,1397.3 1295.0,1395.7 1295.8,1396.2 1296.6,1397.9 1297.4,1398.3 1298.2,1397.7 1299.0,1396.4 1299.8,1395.7 1300.6,1397.2 1301.4,1398.2 1302.1,1398.1 1302.9,1397.1 1303.7,1399.8 1304.5,1397.6 1305.3,1397.6 1306.1,1398.5 1306.9,1399.9 1307.6,1400.7 1308.4,1401.4 1309.2,1400.7 1310.0,1400.6 1310.8,1403.1 1311.6,1403.2 1312.4,1402.6 1313.1,1403.0 1313.9,1405.9 1314.7,1405.0 1315.5,1405.2 1316.3,1406.8 1317.1,1404.7 1317.9,1406.4 1318.6,1405.4 1319.4,1407.5 1320.2,1405.6 1321.0,1408.5 1321.8,1408.0 1322.6,1406.2 1323.4,1406.0 1324.2,1405.4 1325.0,1405.9 1325.8,1406.5 1326.6,1405.3 1327.4,1406.1 1328.1,1405.5 1328.9,1404.5 1329.7,1404.3 1330.5,1406.2 1331.3,1403.7 1332.1,1405.7 1332.9,1402.5 1333.7,1402.6 1334.5,1402.1 1335.3,1402.5 1336.1,1402.9 1336.9,1402.1 1337.7,1403.1 1338.5,1401.1 1339.3,1400.8 1340.1,1400.7 1340.9,1400.4 1341.6,1399.9 1342.4,1400.3 1343.2,1399.4 1344.0,1398.2 1344.8,1398.6 1345.6,1400.3 1346.4,1399.9 1347.2,1398.1 1348.0,1399.5 1348.8,1398.6 1349.6,1400.2 1350.4,1399.3 1351.2,1399.3 1352.1,1402.2 1352.9,1403.6 1353.7,1403.7 1354.5,1404.4 1355.3,1403.0 1356.1,1404.1 1356.9,1406.2 1357.8,1405.1 1358.6,1406.7 1359.4,1408.0 1360.2,1408.2 1361.0,1408.3 1361.8,1409.4 1362.6,1408.0 1363.4,1409.2 1364.2,1410.7 1365.0,1408.3 1365.8,1408.4 1366.6,1411.1 1367.5,1411.7 1368.3,1412.0 1369.1,1410.8 1369.9,1410.4 1370.7,1409.6 1371.5,1410.5 1372.3,1412.7 1373.1,1412.2 1373.9,1411.4 1374.7,1412.6 1375.5,1414.1 1376.3,1414.1 1377.1,1412.8 1377.9,1414.3 1378.7,1415.2 1379.5,1413.4 1380.4,1414.3 1381.2,1415.3 1382.0,1414.5 1382.8,1414.3 1383.6,1415.3 1384.4,1414.6 1385.2,1413.8 1386.0,1415.7 1386.8,1415.5 1387.6,1413.4 1388.4,1412.3 1389.1,1410.5 1389.9,1411.0 1390.7,1409.6 1391.5,1409.7 1392.3,1406.5 1393.1,1407.6 1393.9,1403.7 1394.6,1402.3 1395.4,1402.3 1396.2,1401.6 1397.0,1399.5 1397.8,1400.7 1398.6,1400.2 1399.4,1398.8 1400.2,1401.5 1401.0,1398.9 1401.8,1399.1 1402.5,1399.9 1403.3,1399.5 1404.1,1400.7 1404.9,1400.4 1405.7,1400.5 1406.5,1400.3 1407.3,1398.1 1408.1,1398.2 1408.9,1399.1 1409.7,1398.5 1410.5,1401.4 1411.2,1400.4 1412.0,1401.4 1412.8,1399.0 1413.6,1400.7 1414.4,1399.5 1415.2,1401.0 1416.0,1400.6 1416.8,1400.6 1417.6,1401.2 1418.4,1401.6 1419.2,1402.8 1420.1,1404.5 1420.9,1404.3 1421.7,1405.4 1422.5,1407.3 1423.3,1408.1 1424.1,1408.2 1424.9,1407.9 1425.8,1410.8 1426.6,1410.6 1427.4,1411.1 1428.2,1411.9 1429.0,1413.5 1429.8,1412.3 1430.6,1410.9 1431.4,1410.7 1432.2,1410.5 1433.0,1412.7 1433.8,1412.0 1434.5,1410.6 1435.3,1411.8 1436.1,1410.7 1436.9,1411.3 1437.7,1410.7 1438.5,1410.6 1439.3,1410.0 1440.1,1408.9 1440.9,1409.4 1441.7,1411.2 1442.5,1409.4 1443.2,1409.0 1444.0,1409.0 1444.8,1409.4 1445.6,1409.4 1446.4,1407.1 1447.2,1408.1 1448.0,1409.6 1448.8,1410.1 1449.6,1409.9 1450.4,1408.7 1451.1,1410.9 1451.9,1410.7 1452.7,1410.9 1453.5,1410.5 1454.3,1413.0 1455.1,1412.2 1455.9,1415.2 1456.6,1413.1 1457.4,1413.1 1458.2,1416.2 1459.0,1415.8 1459.8,1412.6 1460.7,1413.5 1461.5,1410.6 1462.3,1407.6 1463.2,1405.5 1464.0,1403.6 1464.8,1405.0 1465.6,1404.4 1466.4,1403.6 1467.1,1404.4 1467.9,1405.2 1468.7,1403.5 1469.5,1404.8 1470.3,1404.8 1471.1,1403.4 1471.9,1403.2 1472.6,1405.6 1473.4,1403.5 1474.2,1404.4 1475.0,1404.1 1475.8,1405.0 1476.6,1405.1 1477.4,1403.8 1478.1,1407.5 1478.9,1407.9 1479.7,1405.7 1480.5,1408.0 1481.3,1407.2 1482.1,1409.6 1482.9,1409.4 1483.6,1410.2 1484.4,1410.1 1485.2,1410.4 1486.0,1410.1 1486.8,1412.0 1487.6,1410.5 1488.4,1412.2 1489.2,1411.7 1490.0,1413.4 1490.8,1413.1 1491.6,1412.7 1492.4,1412.1 1493.2,1412.4 1494.0,1412.7 1494.8,1414.1 1495.6,1411.0 1496.4,1410.9 1497.2,1413.2 1498.0,1411.6 1498.8,1414.1 1499.6,1413.8 1500.4,1413.1 1501.2,1413.2 1502.0,1415.0 1502.8,1415.2 1503.6,1413.2 1504.5,1415.1 1505.3,1414.8 1506.1,1416.2 1506.9,1415.6 1507.7,1416.0 1508.5,1417.1 1509.4,1416.8 1510.2,1420.0 1511.0,1419.8 1511.8,1419.0 1512.6,1418.0 1513.4,1418.8 1514.2,1417.4 1515.0,1416.8 1515.8,1417.5 1516.6,1415.4 1517.4,1415.4 1518.1,1416.5 1518.9,1416.9 1519.7,1414.0 1520.5,1414.4 1521.3,1415.8 1522.1,1413.4 1522.9,1414.9 1523.7,1412.4 1524.5,1411.8 1525.3,1414.3 1526.1,1411.8 1526.9,1411.6 1527.7,1412.8 1528.5,1410.9 1529.3,1411.5 1530.1,1410.9 1530.9,1410.3 1531.6,1412.3 1532.4,1409.4 1533.2,1410.8 1534.0,1408.4 1534.8,1408.3 1535.6,1409.7 1536.4,1409.7 1537.2,1408.3 1538.0,1408.3 1538.8,1408.3 1539.6,1408.9 1540.4,1407.5 1541.2,1409.8 1542.1,1409.3 1542.9,1412.4 1543.7,1411.2 1544.5,1412.7 1545.3,1411.7 1546.1,1413.4 1546.9,1414.2 1547.8,1412.3 1548.6,1415.2 1549.4,1415.7 1550.2,1416.4 1551.0,1416.7 1551.8,1415.1 1552.6,1415.2 1553.4,1417.4 1554.2,1416.6 1555.0,1419.5 1555.8,1418.5 1556.6,1419.4 1557.4,1419.2 1558.2,1421.4 1559.0,1420.4 1559.8,1421.3 1560.6,1421.6 1561.4,1421.2 1562.2,1420.1 1563.0,1420.6 1563.8,1419.8 1564.5,1422.0 1565.3,1421.5 1566.1,1420.5 1566.9,1421.9 1567.7,1421.7 1568.5,1419.9 1569.3,1420.2 1570.1,1422.0 1570.9,1422.4 1571.7,1420.2 1572.5,1421.7 1573.2,1421.8 1574.0,1421.7 1574.8,1420.6 1575.6,1421.9 1576.4,1421.7 1577.2,1421.7 1578.0,1421.9 1578.8,1419.3 1579.6,1418.3 1580.4,1418.0 1581.1,1418.4 1581.9,1418.9 1582.7,1417.8 1583.5,1419.7 1584.3,1417.2 1585.1,1416.5 1585.9,1416.5 1586.6,1416.6 1587.4,1414.7 1588.2,1415.1 1589.0,1417.1 1589.8,1414.7 1590.6,1415.7 1591.4,1417.4 1592.2,1418.5 1593.0,1416.5 1593.8,1416.6 1594.6,1417.5 1595.4,1416.7 1596.2,1419.7 1597.0,1418.3 1597.8,1416.4 1598.6,1417.1 1599.4,1418.9 1600.2,1420.5 1601.0,1417.4 1601.8,1418.5 1602.6,1420.0 1603.4,1420.8 1604.2,1418.5 1605.0,1418.6 1605.8,1418.2 1606.6,1417.9 1607.4,1418.2 1608.1,1420.5 1608.9,1417.9 1609.7,1420.0 1610.5,1419.6 1611.3,1420.3 1612.1,1420.5 1612.9,1419.4 1613.6,1418.4 1614.4,1417.8 1615.2,1418.1 1616.0,1417.8 1616.8,1416.2 1617.6,1418.1 1618.4,1418.9 1619.1,1417.3 1619.9,1418.3 1620.7,1418.4 1621.5,1416.6 1622.3,1416.4 1623.1,1415.7 1623.9,1415.3 1624.6,1415.5 1625.4,1415.8 1626.2,1417.0 1627.0,1415.3 1627.8,1417.7 1628.6,1415.3 1629.4,1417.8 1630.1,1416.9 1630.9,1419.9 1631.7,1419.7 1632.5,1419.4 1633.3,1419.0 1634.1,1420.9 1634.9,1422.5 1635.6,1420.4 1636.4,1422.7 1637.2,1424.7 1638.0,1422.4 1638.8,1424.1 1639.6,1425.4 1640.4,1424.4 1641.1,1425.2 1641.9,1425.0 1642.7,1425.3 1643.5,1426.0 1644.3,1424.6 1645.1,1424.7 1645.9,1426.4 1646.6,1425.2 1647.4,1424.0 1648.2,1426.3 1649.0,1425.2 1649.8,1426.5 1650.6,1424.5 1651.4,1424.4 1652.1,1426.0 1652.9,1425.8 1653.7,1425.1 1654.5,1427.0 1655.3,1426.9 1656.1,1426.9 1656.9,1427.2 1657.6,1428.6 1658.4,1427.4 1659.2,1426.6 1660.0,1427.3 1660.8,1426.0 1661.6,1427.5 1662.4,1427.4 1663.2,1426.2 1664.0,1424.6 1664.8,1425.6 1665.6,1424.2 1666.4,1423.2 1667.1,1424.2 1667.9,1422.6 1668.7,1424.1 1669.5,1424.0 1670.3,1422.4 1671.1,1421.4 1671.9,1421.2 1672.7,1420.4 1673.5,1422.6 1674.3,1420.1 1675.1,1419.1 1675.9,1420.9 1676.7,1419.7 1677.5,1419.2 1678.3,1418.8 1679.1,1420.4 1679.9,1420.0 1680.6,1419.0 1681.4,1419.0 1682.2,1417.6 1683.0,1415.7 1683.8,1415.8 1684.6,1417.5 1685.4,1418.6 1686.2,1417.3 1687.0,1417.1 1687.8,1415.9 1688.6,1417.4 1689.4,1419.1 1690.1,1419.6 1690.9,1421.3 1691.7,1419.4 1692.5,1419.9 1693.3,1421.8 1694.1,1423.0 1694.9,1423.2 1695.6,1424.4 1696.4,1426.8 1697.2,1426.2 1698.0,1427.8 1698.8,1425.7 1699.6,1427.3 1700.4,1427.0 1701.2,1426.3 1702.0,1426.5 1702.8,1426.2 1703.6,1426.1 1704.4,1427.6 1705.2,1428.5 1706.0,1427.2 1706.8,1428.3 1707.6,1426.9 1708.4,1429.0 1709.2,1427.3 1710.0,1426.6 1710.8,1428.8 1711.6,1428.0 1712.4,1427.2 1713.2,1428.1 1714.0,1428.9 1714.8,1428.0 1715.6,1427.9 1716.4,1429.1 1717.2,1428.4 1718.0,1428.0 1718.8,1428.5 1719.6,1427.6 1720.4,1428.8 1721.2,1431.0 1722.0,1429.1 1722.8,1429.3 1723.6,1430.2 1724.4,1430.3 1725.2,1429.3 1726.0,1431.3 1726.8,1431.4 1727.6,1430.1 1728.4,1430.7 1729.2,1432.7 1730.0,1431.7 1730.8,1431.9 1731.6,1431.8 1732.4,1434.3 1733.2,1434.5 1734.0,1432.5 1734.8,1432.9 1735.6,1432.8 1736.4,1433.5 1737.2,1434.7 1738.0,1435.2 1738.8,1434.5 1739.6,1433.5 1740.4,1434.0 1741.2,1435.3 1742.0,1434.0 1742.8,1435.9 1743.6,1434.4 1744.4,1433.7 1745.2,1435.6 1746.0,1436.0 1746.8,1433.9 1747.6,1434.9 1748.4,1434.7 1749.1,1433.2 1749.9,1433.6 1750.7,1432.3 1751.5,1432.2 1752.3,1433.5 1753.1,1433.6 1753.9,1431.5 1754.6,1433.1 1755.4,1432.1 1756.2,1432.5 1757.0,1433.4 1757.8,1433.0 1758.6,1431.7 1759.4,1431.6 1760.1,1432.0 1760.9,1429.5 1761.7,1431.1 1762.5,1431.6 1763.3,1429.4 1764.1,1430.6 1764.9,1428.9 1765.6,1429.2 1766.4,1429.1 1767.2,1429.2 1768.0,1426.5 1768.8,1429.1 1769.6,1427.5 1770.4,1428.4 1771.2,1426.7 1772.0,1428.5 1772.8,1427.7 1773.6,1426.5 1774.4,1429.6 1775.1,1427.6 1775.9,1428.2 1776.7,1427.0 1777.5,1427.6 1778.3,1428.1 1779.1,1429.7 1779.9,1429.5 1780.7,1427.2 1781.5,1428.4 1782.3,1427.6 1783.1,1427.9 1783.9,1426.5 1784.7,1428.4 1785.5,1426.7 1786.3,1427.0 1787.1,1429.4 1787.9,1426.6 1788.6,1429.9 1789.4,1428.3 1790.2,1429.3 1791.0,1427.5 1791.8,1428.6 1792.6,1428.4 1793.4,1429.2 1794.2,1426.7 1795.0,1429.6 1795.8,1429.5 1796.6,1429.5 1797.4,1426.8 1798.2,1429.2 1799.0,1426.7 1799.8,1428.2 1800.6,1428.8 1801.4,1427.7 1802.1,1428.3 1802.9,1427.3 1803.7,1426.3 1804.5,1428.5 1805.3,1427.6 1806.1,1427.0 1806.9,1427.4 1807.7,1425.2 1808.5,1426.0 1809.3,1425.7 1810.1,1427.3 1810.9,1427.6 1811.7,1427.6 1812.5,1427.4 1813.3,1426.3 1814.1,1425.1 1814.9,1425.2 1815.6,1428.0 1816.4,1427.0 1817.2,1428.2 1818.0,1428.3 1818.8,1424.9 1819.6,1426.8 1820.4,1426.9 1821.2,1424.6 1822.0,1426.7 1822.8,1427.2 1823.6,1428.0 1824.5,1427.4 1825.3,1427.5 1826.1,1426.7 1826.9,1429.0 1827.7,1427.0 1828.5,1427.0 1829.4,1428.0 1830.2,1428.6 1831.0,1429.7 1831.8,1430.5 1832.6,1429.2 1833.5,1427.8 1834.3,1431.0 1835.1,1429.9 1835.9,1429.7 1836.7,1429.5 1837.5,1430.3 1838.4,1432.5 1839.2,1432.3 1840.0,1433.2 1840.8,1430.6 1841.6,1433.1 1842.4,1433.3 1843.2,1432.0 1844.0,1432.2 1844.8,1433.0 1845.6,1430.8 1846.4,1431.7 1847.2,1432.0 1848.0,1430.4 1848.8,1431.6 1849.6,1431.7 1850.4,1433.2 1851.2,1433.2 1852.0,1432.4 1852.8,1431.3 1853.6,1429.5 1854.4,1430.2 1855.2,1431.6 1856.0,1431.8 1856.8,1431.9 1857.6,1431.1 1858.4,1429.5 1859.2,1429.7 1860.0,1432.5 1860.8,1429.7 1861.6,1431.5 1862.4,1431.2 1863.2,1429.9 1864.0,1429.2 1864.8,1430.7 1865.7,1430.0 1866.5,1427.9 1867.3,1429.9 1868.1,1430.2 1868.9,1427.1 1869.7,1426.5 1870.5,1428.4 1871.3,1427.5 1872.1,1426.6 1872.9,1425.5 1873.7,1426.6 1874.5,1428.1 1875.3,1427.4 1876.2,1425.0 1877.0,1426.0 1877.8,1424.6 1878.6,1425.1 1879.4,1426.8 1880.2,1424.8 1881.0,1426.4 1881.8,1426.2 1882.6,1422.9 1883.4,1425.1 1884.2,1422.3 1885.1,1423.6 1885.9,1420.8 1886.7,1420.9 1887.5,1421.9 1888.3,1420.1 1889.1,1419.6 1889.9,1421.5 1890.8,1420.9 1891.6,1419.0 1892.4,1417.8 1893.2,1419.1 1894.0,1420.2 1894.8,1417.5 1895.6,1417.5 1896.4,1417.2 1897.2,1417.0 1898.1,1414.7 1898.9,1417.0 1899.7,1416.9 1900.5,1416.7 1901.3,1415.2 1902.1,1413.7 1902.9,1412.5 1903.8,1414.1 1904.6,1413.0 1905.4,1412.8 1906.2,1410.7 1907.0,1412.3 1907.8,1413.4 1908.6,1411.4 1909.4,1412.0 1910.2,1413.1 1911.0,1413.5 1911.8,1414.1 1912.6,1414.3 1913.3,1412.6 1914.1,1411.9 1914.9,1413.6 1915.7,1413.4 1916.5,1415.0 1917.3,1415.1 1918.1,1415.9 1918.9,1414.5 1919.7,1414.4 1920.5,1414.6 1921.3,1414.5 1922.1,1414.0 1922.9,1413.9 1923.7,1415.6 1924.4,1415.2 1925.2,1413.8 1926.0,1415.8 1926.8,1414.4 1927.6,1414.2 1928.4,1414.0 1929.2,1414.5 1930.0,1416.5 1930.8,1417.0 1931.6,1416.1 1932.4,1417.9 1933.2,1418.5 1934.0,1417.0 1934.8,1419.6 1935.6,1419.7 1936.4,1418.1 1937.2,1419.8 1938.0,1419.9 1938.8,1419.3 1939.6,1421.9 1940.4,1420.8 1941.2,1422.2 1942.0,1422.7 1942.8,1424.1 1943.6,1423.9 1944.4,1424.7 1945.2,1425.4 1946.0,1426.2 1946.8,1426.6 1947.6,1424.7 1948.4,1425.3 1949.2,1424.3 1950.0,1425.4 1950.8,1427.0 1951.6,1427.1 1952.4,1426.1 1953.2,1428.5 1954.0,1429.4 1954.8,1429.4 1955.6,1428.5 1956.4,1427.8 1957.2,1427.7 1958.0,1430.1 1958.8,1428.4 1959.6,1428.5 1960.4,1430.4 1961.2,1429.7 1962.0,1430.2 1962.8,1430.2 1963.6,1428.9 1964.4,1428.9 1965.2,1430.8 1966.0,1429.2 1966.8,1428.6 1967.6,1429.2 1968.4,1427.0 1969.2,1426.8 1970.0,1426.2 1970.8,1426.5 1971.6,1427.9 1972.4,1427.5 1973.2,1426.7 1974.0,1427.7 1974.8,1427.3 1975.6,1428.1 1976.4,1426.6 1977.2,1425.8 1978.0,1425.8 1978.8,1426.7 1979.6,1426.9 1980.4,1425.7 1981.2,1426.2 1982.0,1423.9 1982.8,1423.8 1983.6,1423.0 1984.5,1421.5 1985.3,1421.0 1986.1,1419.5 1986.9,1418.4 1987.7,1417.1 1988.5,1415.4 1989.4,1414.8 1990.2,1413.1 1991.0,1410.8 1991.8,1411.1 1992.6,1411.0 1993.4,1413.3 1994.2,1412.3 1995.0,1412.2 1995.8,1411.0 1996.6,1411.0 1997.4,1410.1 1998.2,1411.7 1999.0,1410.2 1999.8,1410.3 2000.6,1410.7 2001.4,1411.4 2002.2,1409.2 2003.0,1411.0 2003.8,1409.7 2004.6,1408.6 2005.4,1408.0 2006.2,1408.6 2007.0,1408.2 2007.8,1407.4 2008.5,1407.0 2009.2,1405.6 2010.0,1402.0 2010.8,1401.3 2011.5,1399.7 2012.2,1398.5 2013.0,1396.8 2013.8,1395.2 2014.6,1395.5 2015.3,1395.4 2016.1,1396.1 2016.9,1396.0 2017.7,1392.4 2018.4,1393.4 2019.2,1392.3 2020.0,1394.4 2020.8,1391.6 2021.6,1390.9 2022.3,1392.1 2023.1,1393.0 2023.9,1392.8 2024.7,1392.9 2025.4,1391.2 2026.2,1390.0 2027.0,1391.3 2027.8,1390.9 2028.7,1390.5 2029.5,1389.9 2030.3,1389.9 2031.2,1391.5 2032.0,1391.3 2032.8,1391.7 2033.7,1390.9 2034.5,1391.5 2035.3,1390.3 2036.2,1391.3 2037.0,1389.1 2037.8,1391.4 2038.7,1391.3 2039.5,1393.3 2040.3,1394.6 2041.2,1395.8 2042.0,1396.2 2042.8,1398.1 2043.7,1397.2 2044.5,1397.7 2045.3,1399.2 2046.2,1400.0 2047.0,1402.1 2047.8,1403.1 2048.6,1403.8 2049.3,1405.3 2050.1,1405.2 2050.9,1409.2 2051.7,1408.7 2052.4,1410.0 2053.2,1412.5 2054.0,1412.5 2054.8,1411.7 2055.6,1412.3 2056.4,1412.2 2057.2,1412.8 2058.0,1413.0 2058.8,1413.5 2059.6,1412.8 2060.4,1412.0 2061.2,1413.2 2062.0,1412.2 2062.8,1412.1 2063.6,1411.7 2064.4,1413.8 2065.2,1412.8 2066.0,1413.4 2066.8,1411.5 2067.6,1411.8 2068.4,1413.8 2069.2,1412.3 2070.0,1414.1 2070.8,1414.1 2071.5,1413.2 2072.2,1415.3 2073.0,1416.3 2073.8,1417.6 2074.5,1418.1 2075.2,1419.6 2076.0,1422.0 2076.8,1420.3 2077.6,1418.4 2078.4,1415.4 2079.2,1414.9 2080.0,1414.8 2080.8,1413.4 2081.6,1411.5 2082.4,1412.5 2083.2,1409.4 2084.0,1408.7 2084.8,1409.6 2085.6,1409.7 2086.4,1409.9 2087.2,1407.8 2088.0,1407.1 2088.8,1407.3 2089.6,1407.2 2090.4,1405.0 2091.2,1406.0 2092.0,1405.1 2092.8,1407.7 2093.6,1405.2 2094.4,1406.1 2095.2,1403.7 2096.0,1405.2 2096.8,1405.6 2097.6,1403.8 2098.4,1402.8 2099.2,1404.1 2100.0,1403.2 2100.8,1400.8 2101.6,1400.8 2102.4,1400.6 2103.2,1400.5 2104.1,1398.6 2104.9,1396.7 2105.7,1396.6 2106.5,1397.0 2107.3,1393.3 2108.1,1394.0 2108.9,1393.5 2109.8,1393.0 2110.6,1390.1 2111.4,1389.8 2112.2,1389.1 2113.0,1386.8 2113.8,1385.7 2114.6,1387.9 2115.4,1388.2 2116.2,1387.3 2117.0,1387.6 2117.8,1387.1 2118.6,1387.0 2119.4,1384.6 2120.2,1384.4 2121.0,1384.6 2121.8,1384.1 2122.6,1383.7 2123.4,1384.5 2124.2,1384.1 2125.0,1384.8 2125.8,1384.1 2126.6,1384.6 2127.4,1382.9 2128.2,1381.3 2129.0,1381.5 2129.8,1380.5 2130.6,1380.7 2131.4,1381.7 2132.2,1382.4 2133.0,1381.9 2133.8,1381.5 2134.6,1382.5 2135.4,1380.3 2136.2,1382.3 2137.0,1379.9 2137.8,1381.3 2138.6,1379.8 2139.4,1381.4 2140.2,1381.2 2141.0,1379.4 2141.8,1379.0 2142.6,1379.0 2143.4,1378.6 2144.2,1379.6 2145.0,1378.8 2145.8,1380.9 2146.6,1379.5 2147.4,1380.9 2148.2,1382.5 2149.0,1382.7 2149.8,1384.2 2150.6,1385.0 2151.4,1384.1 2152.2,1384.1 2153.0,1386.9 2153.8,1388.2 2154.6,1387.7 2155.4,1387.4 2156.2,1388.0 2157.0,1388.6 2157.9,1387.4 2158.7,1389.3 2159.5,1388.4 2160.3,1390.0 2161.1,1389.8 2161.9,1388.8 2162.7,1392.0 2163.5,1391.7 2164.3,1392.5 2165.1,1391.5 2166.0,1393.3 2166.8,1393.8 2167.6,1394.1 2168.4,1393.8 2169.2,1394.4 2170.0,1393.7 2170.8,1394.2 2171.6,1397.2 2172.4,1396.8 2173.2,1398.1 2174.0,1396.3 2174.8,1395.6 2175.6,1396.6 2176.4,1398.4 2177.2,1398.3 2178.0,1397.2 2178.8,1400.2 2179.6,1399.1 2180.4,1399.0 2181.2,1398.3 2182.0,1400.0 2182.8,1400.2 2183.6,1401.0 2184.4,1402.0 2185.2,1400.7 2186.0,1400.1 2186.8,1400.4 2187.6,1400.1 2188.4,1402.8 2189.2,1403.9 2190.0,1402.7 2190.8,1403.6 2191.6,1403.6 2192.4,1402.2 2193.2,1402.9 2194.0,1402.7 2194.8,1402.6 2195.6,1402.5 2196.4,1402.1 2197.2,1400.8 2198.0,1400.2 2198.8,1400.7 2199.6,1401.7 2200.4,1399.5 2201.2,1402.2 2202.0,1400.1 2202.8,1399.4 2203.6,1399.8 2204.4,1399.2 2205.2,1400.8 2206.0,1399.4 2206.8,1401.1 2207.6,1402.2 2208.4,1399.8 2209.2,1402.0 2210.0,1402.8 2210.8,1403.6 2211.6,1402.0 2212.4,1403.5 2213.2,1404.3 2214.0,1404.1 2214.8,1402.0 2215.6,1401.4 2216.4,1402.0 2217.2,1400.6 2218.0,1398.2 2218.8,1398.3 2219.6,1396.6 2220.4,1397.2 2221.2,1395.2 2222.0,1395.5 2222.8,1395.3 2223.6,1392.3 2224.4,1392.4 2225.2,1392.6 2226.0,1389.1 2226.8,1388.6 2227.6,1389.3 2228.3,1388.6 2229.1,1387.6 2229.9,1386.3 2230.7,1384.9 2231.4,1384.9 2232.2,1385.3 2233.0,1384.1 2233.8,1384.2 2234.6,1383.3 2235.5,1384.1 2236.3,1384.3 2237.1,1384.0 2237.9,1381.7 2238.7,1381.1 2239.5,1380.3 2240.4,1381.2 2241.2,1382.6 2242.0,1380.7 2242.8,1379.2 2243.6,1381.3 2244.5,1378.2 2245.3,1379.8 2246.1,1379.8 2246.9,1378.6 2247.7,1379.8 2248.5,1379.9 2249.4,1378.8 2250.2,1376.4 2251.0,1378.3 2251.8,1379.8 2252.6,1377.6 2253.4,1379.5 2254.2,1380.4 2255.0,1379.2 2255.8,1378.9 2256.6,1380.0 2257.4,1380.1 2258.2,1380.8 2259.0,1383.2 2259.8,1382.4 2260.6,1382.4 2261.4,1381.9 2262.2,1383.3 2263.0,1385.2 2263.8,1383.8 2264.6,1385.9 2265.4,1384.2 2266.2,1384.0 2267.0,1384.6 2267.8,1385.7 2268.6,1385.1 2269.5,1385.6 2270.3,1385.2 2271.1,1386.1 2271.9,1385.7 2272.7,1385.6 2273.5,1385.9 2274.4,1385.8 2275.2,1386.1 2276.0,1386.0" stroke="#ff0000" stroke-width="3.5"/>
</g>
<g fill="none" stroke="#ff0000" stroke-width="4">
<rect x="1863" y="91" width="371" height="1288"/>
<line x1="1863" y1="399" x2="2234" y2="399"/>
<line x1="1863" y1="694" x2="2234" y2="694"/>
<line x1="1863" y1="1049" x2="2234" y2="1049"/>
</g>
<g stroke="#000" fill="none">
<rect x="341" y="83" width="1935" height="1437" stroke-width="12"/>
<line x1="310" y1="1433.0" x2="341" y2="1433.0" stroke-width="10"/>
<line x1="310" y1="1163.0" x2="341" y2="1163.0" stroke-width="10"/>
<line x1="310" y1="893.0" x2="341" y2="893.0" stroke-width="10"/>
<line x1="310" y1="623.0" x2="341" y2="623.0" stroke-width="10"/>
<line x1="310" y1="353.0" x2="341" y2="353.0" stroke-width="10"/>
<line x1="310" y1="83.0" x2="341" y2="83.0" stroke-width="10"/>
<line x1="322" y1="1298.0" x2="341" y2="1298.0" stroke-width="10"/>
<line x1="322" y1="1028.0" x2="341" y2="1028.0" stroke-width="10"/>
<line x1="322" y1="758.0" x2="341" y2="758.0" stroke-width="10"/>
<line x1="322" y1="488.0" x2="341" y2="488.0" stroke-width="10"/>
<line x1="322" y1="218.0" x2="341" y2="218.0" stroke-width="10"/>
<line x1="404.0" y1="1520" x2="404.0" y2="1556" stroke-width="11"/>
<line x1="716.0" y1="1520" x2="716.0" y2="1556" stroke-width="11"/>
<line x1="1028.0" y1="1520" x2="1028.0" y2="1556" stroke-width="11"/>
<line x1="1340.0" y1="1520" x2="1340.0" y2="1556" stroke-width="11"/>
<line x1="1652.0" y1="1520" x2="1652.0" y2="1556" stroke-width="11"/>
<line x1="1964.0" y1="1520" x2="1964.0" y2="1556" stroke-width="11"/>
<line x1="2276.0" y1="1520" x2="2276.0" y2="1556" stroke-width="11"/>
<line x1="560.0" y1="1520" x2="560.0" y2="1543" stroke-width="11"/>
<line x1="872.0" y1="1520" x2="872.0" y2="1543" stroke-width="11"/>
<line x1="1184.0" y1="1520" x2="1184.0" y2="1543" stroke-width="11"/>
<line x1="1496.0" y1="1520" x2="1496.0" y2="1543" stroke-width="11"/>
<line x1="1808.0" y1="1520" x2="1808.0" y2="1543" stroke-width="11"/>
<line x1="2120.0" y1="1520" x2="2120.0" y2="1543" stroke-width="11"/>
</g>
<g font-family="Liberation Sans, Arial, sans-serif" font-weight="bold" font-size="84" fill="#000">
<text x="294" y="105" text-anchor="end" transform="translate(294.0,0) scale(0.955,1) translate(-294.0,0)">.5</text>
<text x="184.6" y="104.5" font-family="NanumGothic, Liberation Sans, sans-serif" font-size="75" stroke="#000" stroke-width="4.6">1</text>
<text x="294" y="373" text-anchor="end" transform="translate(294.0,0) scale(0.955,1) translate(-294.0,0)">.2</text>
<text x="184.6" y="372.5" font-family="NanumGothic, Liberation Sans, sans-serif" font-size="75" stroke="#000" stroke-width="4.6">1</text>
<text x="294" y="645" text-anchor="end" transform="translate(294.0,0) scale(0.955,1) translate(-294.0,0)">0.9</text>
<text x="294" y="910.5" text-anchor="end" transform="translate(294.0,0) scale(0.955,1) translate(-294.0,0)">0.6</text>
<text x="294" y="1183" text-anchor="end" transform="translate(294.0,0) scale(0.955,1) translate(-294.0,0)">0.3</text>
<text x="294" y="1450" text-anchor="end" transform="translate(294.0,0) scale(0.955,1) translate(-294.0,0)">0.0</text>
<text x="402.5" y="1631.5" text-anchor="middle" transform="translate(402.5,0) scale(0.955,1) translate(-402.5,0)">200</text>
<text x="714.5" y="1631.5" text-anchor="middle" transform="translate(714.5,0) scale(0.955,1) translate(-714.5,0)">300</text>
<text x="1026.5" y="1631.5" text-anchor="middle" transform="translate(1026.5,0) scale(0.955,1) translate(-1026.5,0)">400</text>
<text x="1338.5" y="1631.5" text-anchor="middle" transform="translate(1338.5,0) scale(0.955,1) translate(-1338.5,0)">500</text>
<text x="1650.5" y="1631.5" text-anchor="middle" transform="translate(1650.5,0) scale(0.955,1) translate(-1650.5,0)">600</text>
<text x="1962.5" y="1631.5" text-anchor="middle" transform="translate(1962.5,0) scale(0.955,1) translate(-1962.5,0)">700</text>
<text x="2274.5" y="1631.5" text-anchor="middle" transform="translate(2274.5,0) scale(0.955,1) translate(-2274.5,0)">800</text>
</g>
<g font-family="Liberation Serif, Times New Roman, serif" font-weight="bold" font-size="97" fill="#000">
<text x="1007" y="1736.5" textLength="743" lengthAdjust="spacing" style="font-kerning:none" transform="translate(1007,0) scale(0.94,1) translate(-1007,0)">Wavelength (nm)</text>
<text transform="translate(117.5,1146) rotate(-90)" textLength="714" lengthAdjust="spacing">Absorbance (a.u.)</text>
</g>
<line x1="863" y1="346" x2="1397" y2="346" stroke="#000" stroke-width="3.6"/><polygon points="1386,333.5 1395,333.5 1395,338 1427,344 1427,348 1395,354 1395,358.5 1386,358.5" fill="#000"/>
<line x1="801" y1="634.5" x2="1551" y2="634.5" stroke="#000" stroke-width="3.6"/><polygon points="1540,622.0 1549,622.0 1549,626.5 1581,632.5 1581,636.5 1549,642.5 1549,647.0 1540,647.0" fill="#000"/>
<line x1="877" y1="818.5" x2="1351" y2="818.5" stroke="#000" stroke-width="3.6"/><polygon points="1340,806.0 1349,806.0 1349,810.5 1381,816.5 1381,820.5 1349,826.5 1349,831.0 1340,831.0" fill="#000"/>
<line x1="1104" y1="1144" x2="1236" y2="1144" stroke="#000" stroke-width="3.6"/><polygon points="1225,1131.5 1234,1131.5 1234,1136 1266,1142 1266,1146 1234,1152 1234,1156.5 1225,1156.5" fill="#000"/>
<g font-family="Liberation Sans, Arial, sans-serif" font-weight="bold" font-size="82" fill="#000">
<text x="1446" y="373.5">MTiO<tspan font-size="39" dy="29">2</tspan><tspan dy="-29">/Ala</tspan></text>
<text x="1626" y="669.5">P25</text>
<text x="1408" y="846">MTiO<tspan font-size="39" dy="29">2</tspan><tspan dy="-29">/DDA</tspan></text>
<text x="1270" y="1172.5">MTiO<tspan font-size="39" dy="29">2</tspan><tspan dy="-29">/Ala-DDA</tspan></text>
</g>
</svg></body></html>
